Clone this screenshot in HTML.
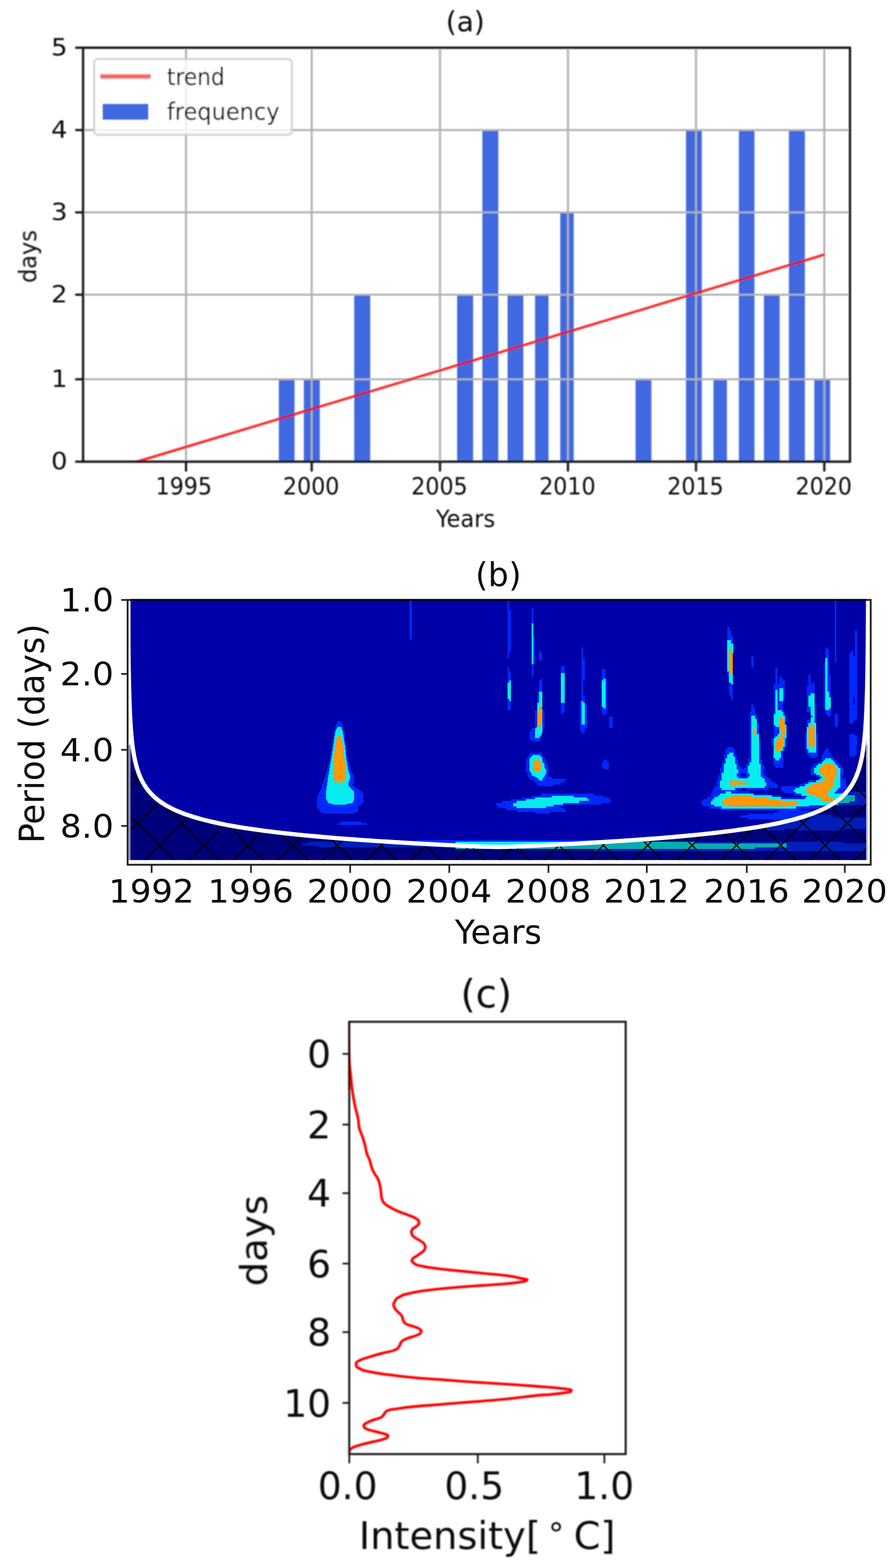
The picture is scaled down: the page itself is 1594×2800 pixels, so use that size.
<!DOCTYPE html>
<html lang="en"><head><meta charset="utf-8"><title>Figure</title>
<style>html,body{margin:0;padding:0;background:#fff}body{width:1594px;height:2800px;overflow:hidden}svg{display:block}text{font-family:"DejaVu Sans","Liberation Sans",sans-serif;fill:#0c0c0c}</style></head><body>
<svg width="1594" height="2800" viewBox="0 0 1594 2800">
<rect width="1594" height="2800" fill="#fff"/>
<defs><filter id="ba" x="-5%" y="-5%" width="110%" height="110%"><feGaussianBlur stdDeviation="0.8"/></filter><filter id="bb" x="-5%" y="-5%" width="110%" height="110%"><feGaussianBlur stdDeviation="0.4"/></filter><filter id="bc" x="-5%" y="-5%" width="110%" height="110%"><feGaussianBlur stdDeviation="0.8"/></filter></defs>
<g id="panel-a" filter="url(#ba)">
<rect x="497.7" y="677.3" width="28.1" height="147.1" fill="#4169e1"/>
<rect x="542.3" y="677.3" width="28.5" height="147.1" fill="#4169e1"/>
<rect x="632.3" y="526.2" width="28.5" height="298.2" fill="#4169e1"/>
<rect x="816.0" y="526.2" width="28.5" height="298.2" fill="#4169e1"/>
<rect x="861.0" y="232.3" width="28.5" height="592.1" fill="#4169e1"/>
<rect x="906.0" y="526.2" width="28.1" height="298.2" fill="#4169e1"/>
<rect x="955.1" y="526.2" width="24.0" height="298.2" fill="#4169e1"/>
<rect x="1000.1" y="379.3" width="24.0" height="445.1" fill="#4169e1"/>
<rect x="1134.5" y="677.3" width="28.2" height="147.1" fill="#4169e1"/>
<rect x="1224.5" y="232.3" width="28.2" height="592.1" fill="#4169e1"/>
<rect x="1273.6" y="677.3" width="24.0" height="147.1" fill="#4169e1"/>
<rect x="1318.9" y="232.3" width="27.8" height="592.1" fill="#4169e1"/>
<rect x="1363.6" y="526.2" width="28.1" height="298.2" fill="#4169e1"/>
<rect x="1408.2" y="232.3" width="28.5" height="592.1" fill="#4169e1"/>
<rect x="1453.5" y="677.3" width="28.2" height="147.1" fill="#4169e1"/>
<line x1="332.1" y1="85.2" x2="332.1" y2="824.4" stroke="#b0b0b0" stroke-width="3.6"/>
<line x1="556.4" y1="85.2" x2="556.4" y2="824.4" stroke="#b0b0b0" stroke-width="3.6"/>
<line x1="785.4" y1="85.2" x2="785.4" y2="824.4" stroke="#b0b0b0" stroke-width="3.6"/>
<line x1="1013.8" y1="85.2" x2="1013.8" y2="824.4" stroke="#b0b0b0" stroke-width="3.6"/>
<line x1="1242.4" y1="85.2" x2="1242.4" y2="824.4" stroke="#b0b0b0" stroke-width="3.6"/>
<line x1="1471.4" y1="85.2" x2="1471.4" y2="824.4" stroke="#b0b0b0" stroke-width="3.6"/>
<line x1="148.3" y1="677.3" x2="1517.2" y2="677.3" stroke="#b0b0b0" stroke-width="3.6"/>
<line x1="148.3" y1="526.2" x2="1517.2" y2="526.2" stroke="#b0b0b0" stroke-width="3.6"/>
<line x1="148.3" y1="379.3" x2="1517.2" y2="379.3" stroke="#b0b0b0" stroke-width="3.6"/>
<line x1="148.3" y1="232.3" x2="1517.2" y2="232.3" stroke="#b0b0b0" stroke-width="3.6"/>
<line x1="243.5" y1="824.8" x2="1471.8" y2="454.5" stroke="#ff0000" stroke-width="4.6" stroke-opacity="0.82"/>
<rect x="148.3" y="85.2" width="1368.9" height="739.2" fill="none" stroke="#141414" stroke-width="4.1"/>
<line x1="332.1" y1="824.4" x2="332.1" y2="841.9" stroke="#141414" stroke-width="4.0"/>
<text transform="translate(328.1,882.8) scale(0.93,1)" font-size="42.6" text-anchor="middle">1995</text>
<line x1="556.4" y1="824.4" x2="556.4" y2="841.9" stroke="#141414" stroke-width="4.0"/>
<text transform="translate(555.4,882.8) scale(0.93,1)" font-size="42.6" text-anchor="middle">2000</text>
<line x1="785.4" y1="824.4" x2="785.4" y2="841.9" stroke="#141414" stroke-width="4.0"/>
<text transform="translate(784.4,882.8) scale(0.93,1)" font-size="42.6" text-anchor="middle">2005</text>
<line x1="1013.8" y1="824.4" x2="1013.8" y2="841.9" stroke="#141414" stroke-width="4.0"/>
<text transform="translate(1012.8,882.8) scale(0.93,1)" font-size="42.6" text-anchor="middle">2010</text>
<line x1="1242.4" y1="824.4" x2="1242.4" y2="841.9" stroke="#141414" stroke-width="4.0"/>
<text transform="translate(1241.4,882.8) scale(0.93,1)" font-size="42.6" text-anchor="middle">2015</text>
<line x1="1471.4" y1="824.4" x2="1471.4" y2="841.9" stroke="#141414" stroke-width="4.0"/>
<text transform="translate(1470.4,882.8) scale(0.93,1)" font-size="42.6" text-anchor="middle">2020</text>
<line x1="134.3" y1="85.2" x2="148.3" y2="85.2" stroke="#141414" stroke-width="4.0"/>
<text transform="translate(120.5,99.2) scale(1.07,1)" font-size="42.8" text-anchor="end">5</text>
<line x1="134.3" y1="232.3" x2="148.3" y2="232.3" stroke="#141414" stroke-width="4.0"/>
<text transform="translate(120.5,246.3) scale(1.07,1)" font-size="42.8" text-anchor="end">4</text>
<line x1="134.3" y1="379.3" x2="148.3" y2="379.3" stroke="#141414" stroke-width="4.0"/>
<text transform="translate(120.5,393.3) scale(1.07,1)" font-size="42.8" text-anchor="end">3</text>
<line x1="134.3" y1="526.2" x2="148.3" y2="526.2" stroke="#141414" stroke-width="4.0"/>
<text transform="translate(120.5,540.2) scale(1.07,1)" font-size="42.8" text-anchor="end">2</text>
<line x1="134.3" y1="677.3" x2="148.3" y2="677.3" stroke="#141414" stroke-width="4.0"/>
<text transform="translate(120.5,691.3) scale(1.07,1)" font-size="42.8" text-anchor="end">1</text>
<line x1="134.3" y1="824.4" x2="148.3" y2="824.4" stroke="#141414" stroke-width="4.0"/>
<text transform="translate(120.5,838.4) scale(1.07,1)" font-size="42.8" text-anchor="end">0</text>
<text transform="translate(830.5,55.8)" font-size="50" text-anchor="middle">(a)</text>
<text transform="translate(831.0,940.5) scale(0.93,1)" font-size="43" text-anchor="middle">Years</text>
<text transform="translate(64.5,458.0) rotate(-90) scale(0.93,1)" font-size="43" text-anchor="middle">days</text>
<rect x="168" y="105.3" width="353" height="135.4" rx="7" fill="#fff" fill-opacity="0.8" stroke="#cccccc" stroke-opacity="0.85" stroke-width="3.8"/>
<line x1="178.8" y1="136.4" x2="268.8" y2="136.4" stroke="#ff0000" stroke-width="8" stroke-opacity="0.6"/>
<rect x="183" y="185.4" width="81.8" height="28.4" fill="#4169e1"/>
<text transform="translate(298.0,152.0) scale(0.9,1)" font-size="43" text-anchor="start">trend</text>
<text transform="translate(298.0,213.5) scale(0.932,1)" font-size="43" text-anchor="start">frequency</text>
</g>
<g id="panel-b">
<clipPath id="clipb"><rect x="232.8" y="1071.3" width="1313.6" height="464.5"/></clipPath>
<rect x="232.8" y="1071.3" width="1313.6" height="464.5" fill="#0000a8"/>
<g clip-path="url(#clipb)" shape-rendering="crispEdges">
<rect x="1298.1" y="1118.9" width="3.8" height="7.1" fill="#0028fc"/>
<rect x="1298.1" y="1125.7" width="7.1" height="10.5" fill="#0028fc"/>
<rect x="1298.1" y="1135.8" width="10.4" height="7.1" fill="#0028fc"/>
<rect x="1304.8" y="1142.5" width="3.7" height="6.7" fill="#0028fc"/>
<rect x="1298.1" y="1198.7" width="3.8" height="3.8" fill="#0028fc"/>
<rect x="1298.1" y="1202.1" width="3.8" height="6.7" fill="#0028fc"/>
<rect x="1301.4" y="1218.5" width="3.8" height="3.8" fill="#0028fc"/>
<rect x="1301.4" y="1221.8" width="7.0" height="20.1" fill="#0028fc"/>
<rect x="1304.8" y="1241.5" width="3.7" height="7.1" fill="#0028fc"/>
<rect x="1340.9" y="1171.8" width="4.0" height="20.3" fill="#0028fc"/>
<rect x="1340.9" y="1257.9" width="4.0" height="7.1" fill="#0028fc"/>
<rect x="1340.9" y="1264.6" width="7.2" height="7.1" fill="#0028fc"/>
<rect x="1337.8" y="1271.3" width="10.3" height="3.8" fill="#0028fc"/>
<rect x="1337.8" y="1274.7" width="13.6" height="3.8" fill="#0028fc"/>
<rect x="1337.8" y="1278.1" width="3.5" height="6.7" fill="#0028fc"/>
<rect x="1347.7" y="1278.1" width="3.7" height="6.7" fill="#0028fc"/>
<rect x="1337.8" y="1284.3" width="3.5" height="7.1" fill="#0028fc"/>
<rect x="1337.8" y="1291.0" width="3.5" height="10.5" fill="#0028fc"/>
<rect x="1351.0" y="1291.0" width="3.8" height="10.5" fill="#0028fc"/>
<rect x="1337.8" y="1301.1" width="3.5" height="10.5" fill="#0028fc"/>
<rect x="1351.0" y="1301.1" width="3.8" height="10.5" fill="#0028fc"/>
<rect x="1337.8" y="1311.2" width="3.5" height="13.4" fill="#0028fc"/>
<rect x="1337.8" y="1324.2" width="3.5" height="6.0" fill="#0028fc"/>
<rect x="1354.3" y="1324.2" width="3.8" height="6.0" fill="#0028fc"/>
<rect x="1383.9" y="1191.7" width="4.0" height="30.5" fill="#0028fc"/>
<rect x="1390.9" y="1208.4" width="3.8" height="3.8" fill="#0028fc"/>
<rect x="1390.9" y="1211.7" width="6.8" height="3.8" fill="#0028fc"/>
<rect x="1390.9" y="1215.1" width="10.1" height="7.1" fill="#0028fc"/>
<rect x="1380.8" y="1221.8" width="20.2" height="7.1" fill="#0028fc"/>
<rect x="1380.8" y="1228.5" width="10.5" height="3.8" fill="#0028fc"/>
<rect x="1397.3" y="1228.5" width="3.7" height="3.8" fill="#0028fc"/>
<rect x="1380.8" y="1231.9" width="3.6" height="16.7" fill="#0028fc"/>
<rect x="1387.5" y="1231.9" width="3.8" height="16.7" fill="#0028fc"/>
<rect x="1397.3" y="1231.9" width="3.7" height="16.7" fill="#0028fc"/>
<rect x="1380.8" y="1248.3" width="3.6" height="3.8" fill="#0028fc"/>
<rect x="1387.5" y="1248.3" width="3.8" height="3.8" fill="#0028fc"/>
<rect x="1380.8" y="1251.6" width="3.6" height="16.7" fill="#0028fc"/>
<rect x="1387.5" y="1251.6" width="10.2" height="16.7" fill="#0028fc"/>
<rect x="1380.8" y="1268.0" width="3.6" height="3.8" fill="#0028fc"/>
<rect x="1394.2" y="1268.0" width="3.5" height="3.8" fill="#0028fc"/>
<rect x="1380.8" y="1271.3" width="3.6" height="3.8" fill="#0028fc"/>
<rect x="1397.3" y="1271.3" width="3.7" height="3.8" fill="#0028fc"/>
<rect x="1397.3" y="1274.7" width="3.7" height="3.8" fill="#0028fc"/>
<rect x="1400.6" y="1278.1" width="3.7" height="3.8" fill="#0028fc"/>
<rect x="1400.6" y="1281.4" width="3.7" height="6.7" fill="#0028fc"/>
<rect x="1400.6" y="1287.7" width="3.7" height="7.1" fill="#0028fc"/>
<rect x="1380.8" y="1294.4" width="3.6" height="3.8" fill="#0028fc"/>
<rect x="1380.8" y="1297.8" width="10.5" height="3.8" fill="#0028fc"/>
<rect x="1380.8" y="1301.1" width="10.5" height="3.8" fill="#0028fc"/>
<rect x="1380.8" y="1304.5" width="7.1" height="3.8" fill="#0028fc"/>
<rect x="1380.8" y="1307.9" width="10.5" height="3.8" fill="#0028fc"/>
<rect x="1380.8" y="1311.2" width="7.1" height="3.8" fill="#0028fc"/>
<rect x="1380.8" y="1314.6" width="3.6" height="3.8" fill="#0028fc"/>
<rect x="1377.4" y="1318.0" width="3.8" height="6.7" fill="#0028fc"/>
<rect x="1400.6" y="1318.0" width="3.7" height="6.7" fill="#0028fc"/>
<rect x="1377.4" y="1324.2" width="3.8" height="6.0" fill="#0028fc"/>
<rect x="1400.6" y="1324.2" width="3.7" height="6.0" fill="#0028fc"/>
<rect x="1443.3" y="1205.0" width="4.0" height="17.2" fill="#0028fc"/>
<rect x="1450.0" y="1218.5" width="3.7" height="3.8" fill="#0028fc"/>
<rect x="1443.3" y="1221.8" width="10.4" height="3.8" fill="#0028fc"/>
<rect x="1439.9" y="1225.2" width="13.8" height="13.4" fill="#0028fc"/>
<rect x="1439.9" y="1238.2" width="7.3" height="3.8" fill="#0028fc"/>
<rect x="1439.9" y="1241.5" width="3.8" height="13.9" fill="#0028fc"/>
<rect x="1439.9" y="1255.0" width="3.8" height="6.7" fill="#0028fc"/>
<rect x="1453.3" y="1255.0" width="3.8" height="6.7" fill="#0028fc"/>
<rect x="1439.9" y="1261.2" width="7.3" height="10.5" fill="#0028fc"/>
<rect x="1453.3" y="1261.2" width="3.8" height="10.5" fill="#0028fc"/>
<rect x="1453.3" y="1271.3" width="3.8" height="7.1" fill="#0028fc"/>
<rect x="1446.8" y="1278.1" width="3.6" height="3.8" fill="#0028fc"/>
<rect x="1453.3" y="1278.1" width="3.8" height="3.8" fill="#0028fc"/>
<rect x="1453.3" y="1281.4" width="3.8" height="3.8" fill="#0028fc"/>
<rect x="1439.9" y="1284.8" width="7.3" height="6.7" fill="#0028fc"/>
<rect x="1453.3" y="1284.8" width="3.8" height="6.7" fill="#0028fc"/>
<rect x="1439.9" y="1291.0" width="3.8" height="3.8" fill="#0028fc"/>
<rect x="1439.9" y="1294.4" width="3.8" height="3.8" fill="#0028fc"/>
<rect x="1436.7" y="1307.9" width="3.6" height="3.8" fill="#0028fc"/>
<rect x="1436.7" y="1311.2" width="3.6" height="19.0" fill="#0028fc"/>
<rect x="1456.6" y="1311.2" width="3.6" height="19.0" fill="#0028fc"/>
<rect x="1473.0" y="1155.8" width="3.8" height="3.5" fill="#0028fc"/>
<rect x="1473.0" y="1158.8" width="7.1" height="16.7" fill="#0028fc"/>
<rect x="1476.3" y="1175.2" width="3.8" height="7.1" fill="#0028fc"/>
<rect x="1469.9" y="1181.9" width="3.5" height="23.5" fill="#0028fc"/>
<rect x="1476.3" y="1181.9" width="3.8" height="23.5" fill="#0028fc"/>
<rect x="1469.9" y="1205.0" width="3.5" height="30.2" fill="#0028fc"/>
<rect x="1476.3" y="1205.0" width="6.9" height="30.2" fill="#0028fc"/>
<rect x="1469.9" y="1234.8" width="3.5" height="10.5" fill="#0028fc"/>
<rect x="1479.7" y="1234.8" width="3.6" height="10.5" fill="#0028fc"/>
<rect x="1469.9" y="1244.9" width="3.5" height="20.1" fill="#0028fc"/>
<rect x="1479.7" y="1264.6" width="3.6" height="3.8" fill="#0028fc"/>
<rect x="1473.0" y="1268.0" width="10.3" height="7.1" fill="#0028fc"/>
<rect x="1476.3" y="1274.7" width="6.9" height="3.8" fill="#0028fc"/>
<rect x="1489.6" y="1070.4" width="3.6" height="111.7" fill="#0028fc"/>
<rect x="1489.6" y="1274.7" width="6.8" height="23.5" fill="#0028fc"/>
<rect x="1525.9" y="1125.7" width="3.6" height="46.6" fill="#0028fc"/>
<rect x="1519.2" y="1162.2" width="3.7" height="3.8" fill="#0028fc"/>
<rect x="1515.9" y="1165.6" width="7.0" height="6.7" fill="#0028fc"/>
<rect x="1515.9" y="1171.8" width="13.6" height="73.5" fill="#0028fc"/>
<rect x="1515.9" y="1244.9" width="7.0" height="13.4" fill="#0028fc"/>
<rect x="1525.9" y="1244.9" width="3.6" height="13.4" fill="#0028fc"/>
<rect x="1515.9" y="1257.9" width="13.6" height="27.3" fill="#0028fc"/>
<rect x="1515.9" y="1284.8" width="10.4" height="3.3" fill="#0028fc"/>
<rect x="1515.9" y="1287.7" width="7.0" height="3.8" fill="#0028fc"/>
<rect x="1515.9" y="1310.8" width="10.4" height="3.8" fill="#0028fc"/>
<rect x="1515.9" y="1314.1" width="13.6" height="16.1" fill="#0028fc"/>
<rect x="1298.2" y="1334.2" width="10.3" height="3.7" fill="#0028fc"/>
<rect x="1294.9" y="1337.5" width="16.9" height="7.0" fill="#0028fc"/>
<rect x="1294.9" y="1344.1" width="7.0" height="3.7" fill="#0028fc"/>
<rect x="1308.1" y="1344.1" width="3.7" height="3.7" fill="#0028fc"/>
<rect x="1291.6" y="1347.4" width="7.0" height="3.7" fill="#0028fc"/>
<rect x="1308.1" y="1347.4" width="7.0" height="3.7" fill="#0028fc"/>
<rect x="1291.6" y="1350.7" width="7.0" height="3.7" fill="#0028fc"/>
<rect x="1311.4" y="1350.7" width="3.7" height="3.7" fill="#0028fc"/>
<rect x="1291.6" y="1354.0" width="3.7" height="3.7" fill="#0028fc"/>
<rect x="1311.4" y="1354.0" width="3.7" height="3.7" fill="#0028fc"/>
<rect x="1291.6" y="1357.3" width="3.7" height="3.7" fill="#0028fc"/>
<rect x="1311.4" y="1357.3" width="7.0" height="3.7" fill="#0028fc"/>
<rect x="1288.3" y="1360.6" width="7.0" height="3.7" fill="#0028fc"/>
<rect x="1311.4" y="1360.6" width="7.0" height="3.7" fill="#0028fc"/>
<rect x="1288.3" y="1363.9" width="3.7" height="3.7" fill="#0028fc"/>
<rect x="1314.7" y="1363.9" width="3.7" height="3.7" fill="#0028fc"/>
<rect x="1288.3" y="1367.2" width="3.7" height="3.7" fill="#0028fc"/>
<rect x="1314.7" y="1367.2" width="7.0" height="3.7" fill="#0028fc"/>
<rect x="1285.0" y="1370.5" width="7.0" height="3.7" fill="#0028fc"/>
<rect x="1314.7" y="1370.5" width="10.3" height="3.7" fill="#0028fc"/>
<rect x="1285.0" y="1373.8" width="7.0" height="7.0" fill="#0028fc"/>
<rect x="1318.0" y="1373.8" width="16.9" height="7.0" fill="#0028fc"/>
<rect x="1285.0" y="1380.4" width="3.7" height="3.7" fill="#0028fc"/>
<rect x="1314.7" y="1380.4" width="7.0" height="3.7" fill="#0028fc"/>
<rect x="1331.2" y="1380.4" width="7.0" height="3.7" fill="#0028fc"/>
<rect x="1281.8" y="1383.7" width="7.0" height="3.7" fill="#0028fc"/>
<rect x="1314.7" y="1383.7" width="7.0" height="3.7" fill="#0028fc"/>
<rect x="1331.2" y="1383.7" width="7.0" height="3.7" fill="#0028fc"/>
<rect x="1281.8" y="1387.0" width="7.0" height="3.7" fill="#0028fc"/>
<rect x="1318.0" y="1387.0" width="16.9" height="3.7" fill="#0028fc"/>
<rect x="1281.8" y="1390.3" width="7.0" height="3.7" fill="#0028fc"/>
<rect x="1278.5" y="1393.6" width="7.0" height="3.7" fill="#0028fc"/>
<rect x="1278.5" y="1396.9" width="7.0" height="3.7" fill="#0028fc"/>
<rect x="1278.5" y="1400.2" width="7.0" height="3.7" fill="#0028fc"/>
<rect x="1275.2" y="1403.5" width="10.3" height="3.7" fill="#0028fc"/>
<rect x="1364.2" y="1403.5" width="23.5" height="3.7" fill="#0028fc"/>
<rect x="1275.2" y="1406.8" width="13.6" height="3.7" fill="#0028fc"/>
<rect x="1311.4" y="1406.8" width="13.6" height="3.7" fill="#0028fc"/>
<rect x="1331.2" y="1406.8" width="40.0" height="3.7" fill="#0028fc"/>
<rect x="1271.9" y="1410.0" width="43.3" height="3.7" fill="#0028fc"/>
<rect x="1271.9" y="1413.3" width="23.5" height="3.7" fill="#0028fc"/>
<rect x="1304.8" y="1413.3" width="33.4" height="3.7" fill="#0028fc"/>
<rect x="1271.9" y="1416.6" width="13.6" height="3.5" fill="#0028fc"/>
<rect x="1344.4" y="1416.6" width="26.8" height="3.5" fill="#0028fc"/>
<rect x="1337.8" y="1319.8" width="3.7" height="4.9" fill="#0028fc"/>
<rect x="1337.8" y="1324.3" width="3.7" height="30.1" fill="#0028fc"/>
<rect x="1354.3" y="1324.3" width="3.7" height="30.1" fill="#0028fc"/>
<rect x="1334.5" y="1354.0" width="7.0" height="3.7" fill="#0028fc"/>
<rect x="1354.3" y="1354.0" width="3.7" height="3.7" fill="#0028fc"/>
<rect x="1334.5" y="1357.3" width="7.0" height="3.7" fill="#0028fc"/>
<rect x="1354.3" y="1357.3" width="7.0" height="3.7" fill="#0028fc"/>
<rect x="1334.5" y="1360.6" width="3.7" height="3.7" fill="#0028fc"/>
<rect x="1354.3" y="1360.6" width="7.0" height="3.7" fill="#0028fc"/>
<rect x="1331.2" y="1363.9" width="7.0" height="3.7" fill="#0028fc"/>
<rect x="1357.6" y="1363.9" width="3.7" height="3.7" fill="#0028fc"/>
<rect x="1331.2" y="1367.2" width="3.7" height="3.7" fill="#0028fc"/>
<rect x="1357.6" y="1367.2" width="7.0" height="3.7" fill="#0028fc"/>
<rect x="1327.9" y="1370.5" width="7.0" height="7.0" fill="#0028fc"/>
<rect x="1357.6" y="1370.5" width="7.0" height="7.0" fill="#0028fc"/>
<rect x="1357.6" y="1377.1" width="3.7" height="3.7" fill="#0028fc"/>
<rect x="1357.6" y="1380.4" width="7.0" height="7.0" fill="#0028fc"/>
<rect x="1364.2" y="1383.7" width="3.7" height="3.7" fill="#0028fc"/>
<rect x="1360.9" y="1387.0" width="10.3" height="3.7" fill="#0028fc"/>
<rect x="1364.2" y="1390.3" width="10.3" height="3.7" fill="#0028fc"/>
<rect x="1364.2" y="1393.6" width="13.6" height="3.7" fill="#0028fc"/>
<rect x="1367.5" y="1396.9" width="16.9" height="3.7" fill="#0028fc"/>
<rect x="1367.5" y="1400.2" width="20.2" height="3.7" fill="#0028fc"/>
<rect x="1275.0" y="1403.6" width="10.3" height="3.7" fill="#0028fc"/>
<rect x="1364.0" y="1403.6" width="23.5" height="3.7" fill="#0028fc"/>
<rect x="1275.0" y="1406.9" width="13.6" height="3.7" fill="#0028fc"/>
<rect x="1311.8" y="1406.9" width="13.0" height="3.7" fill="#0028fc"/>
<rect x="1331.0" y="1406.9" width="40.5" height="3.7" fill="#0028fc"/>
<rect x="1393.6" y="1406.9" width="6.6" height="3.7" fill="#0028fc"/>
<rect x="1271.9" y="1410.2" width="43.6" height="3.7" fill="#0028fc"/>
<rect x="1396.9" y="1410.2" width="3.3" height="3.7" fill="#0028fc"/>
<rect x="1271.9" y="1413.5" width="23.3" height="3.7" fill="#0028fc"/>
<rect x="1304.6" y="1413.5" width="33.4" height="3.7" fill="#0028fc"/>
<rect x="1268.6" y="1416.8" width="16.7" height="3.7" fill="#0028fc"/>
<rect x="1344.7" y="1416.8" width="26.8" height="3.7" fill="#0028fc"/>
<rect x="1268.6" y="1420.1" width="13.4" height="3.7" fill="#0028fc"/>
<rect x="1377.7" y="1420.1" width="16.3" height="3.7" fill="#0028fc"/>
<rect x="1261.8" y="1423.4" width="13.6" height="3.7" fill="#0028fc"/>
<rect x="1393.6" y="1423.4" width="6.6" height="3.7" fill="#0028fc"/>
<rect x="1255.2" y="1426.7" width="16.9" height="3.7" fill="#0028fc"/>
<rect x="1251.9" y="1430.0" width="17.1" height="3.7" fill="#0028fc"/>
<rect x="1251.9" y="1433.3" width="17.1" height="3.7" fill="#0028fc"/>
<rect x="1255.2" y="1436.6" width="20.2" height="3.7" fill="#0028fc"/>
<rect x="1265.3" y="1439.9" width="23.3" height="3.7" fill="#0028fc"/>
<rect x="1284.9" y="1443.2" width="115.3" height="3.7" fill="#0028fc"/>
<rect x="1390.3" y="1446.5" width="9.9" height="3.7" fill="#0028fc"/>
<rect x="1383.8" y="1449.8" width="16.4" height="3.7" fill="#0028fc"/>
<rect x="1334.9" y="1453.1" width="65.3" height="3.7" fill="#0028fc"/>
<rect x="1321.1" y="1456.4" width="79.1" height="3.7" fill="#0028fc"/>
<rect x="1334.9" y="1459.7" width="65.3" height="3.7" fill="#0028fc"/>
<rect x="1400.8" y="1319.8" width="3.3" height="4.5" fill="#0028fc"/>
<rect x="1400.8" y="1323.9" width="3.3" height="10.3" fill="#0028fc"/>
<rect x="1397.3" y="1333.8" width="3.9" height="7.4" fill="#0028fc"/>
<rect x="1379.8" y="1340.8" width="1.3" height="13.2" fill="#0028fc"/>
<rect x="1393.8" y="1340.8" width="3.9" height="13.2" fill="#0028fc"/>
<rect x="1379.8" y="1353.7" width="4.6" height="3.9" fill="#0028fc"/>
<rect x="1390.5" y="1353.7" width="7.2" height="3.9" fill="#0028fc"/>
<rect x="1379.8" y="1357.2" width="17.9" height="6.8" fill="#0028fc"/>
<rect x="1380.7" y="1363.6" width="17.0" height="3.9" fill="#0028fc"/>
<rect x="1384.0" y="1367.1" width="13.7" height="3.9" fill="#0028fc"/>
<rect x="1437.0" y="1319.8" width="3.7" height="11.5" fill="#0028fc"/>
<rect x="1456.6" y="1319.8" width="3.6" height="11.5" fill="#0028fc"/>
<rect x="1437.0" y="1330.9" width="3.7" height="3.3" fill="#0028fc"/>
<rect x="1456.6" y="1330.9" width="3.6" height="3.3" fill="#0028fc"/>
<rect x="1437.0" y="1333.8" width="3.7" height="3.9" fill="#0028fc"/>
<rect x="1456.6" y="1333.8" width="3.6" height="3.9" fill="#0028fc"/>
<rect x="1440.3" y="1337.3" width="3.6" height="6.8" fill="#0028fc"/>
<rect x="1456.6" y="1337.3" width="3.6" height="6.8" fill="#0028fc"/>
<rect x="1440.3" y="1343.7" width="19.9" height="3.9" fill="#0028fc"/>
<rect x="1443.4" y="1347.2" width="16.7" height="3.6" fill="#0028fc"/>
<rect x="1446.9" y="1350.4" width="10.1" height="3.7" fill="#0028fc"/>
<rect x="1515.8" y="1319.8" width="13.6" height="27.8" fill="#0028fc"/>
<rect x="1515.8" y="1347.2" width="10.3" height="3.6" fill="#0028fc"/>
<rect x="1473.2" y="1337.3" width="6.8" height="3.9" fill="#0028fc"/>
<rect x="1469.9" y="1340.8" width="10.1" height="3.3" fill="#0028fc"/>
<rect x="1469.9" y="1343.7" width="13.6" height="3.9" fill="#0028fc"/>
<rect x="1466.8" y="1347.2" width="16.7" height="3.6" fill="#0028fc"/>
<rect x="1466.8" y="1350.4" width="19.9" height="3.7" fill="#0028fc"/>
<rect x="1466.8" y="1353.7" width="6.8" height="3.9" fill="#0028fc"/>
<rect x="1483.1" y="1353.7" width="6.8" height="3.9" fill="#0028fc"/>
<rect x="1466.8" y="1357.2" width="3.6" height="3.7" fill="#0028fc"/>
<rect x="1486.3" y="1357.2" width="6.9" height="3.7" fill="#0028fc"/>
<rect x="1460.1" y="1360.4" width="7.1" height="3.6" fill="#0028fc"/>
<rect x="1489.5" y="1360.4" width="6.8" height="3.6" fill="#0028fc"/>
<rect x="1453.4" y="1363.6" width="7.2" height="3.9" fill="#0028fc"/>
<rect x="1492.8" y="1363.6" width="7.1" height="3.9" fill="#0028fc"/>
<rect x="1450.2" y="1367.1" width="6.8" height="3.9" fill="#0028fc"/>
<rect x="1496.0" y="1367.1" width="7.1" height="3.9" fill="#0028fc"/>
<rect x="1446.9" y="1370.6" width="6.8" height="10.3" fill="#0028fc"/>
<rect x="1499.5" y="1370.6" width="6.8" height="10.3" fill="#0028fc"/>
<rect x="1446.9" y="1380.5" width="10.1" height="3.7" fill="#0028fc"/>
<rect x="1499.5" y="1380.5" width="6.8" height="3.7" fill="#0028fc"/>
<rect x="1456.6" y="1383.8" width="7.1" height="3.6" fill="#0028fc"/>
<rect x="1499.5" y="1383.8" width="3.6" height="3.6" fill="#0028fc"/>
<rect x="1463.3" y="1386.9" width="3.9" height="3.7" fill="#0028fc"/>
<rect x="1499.5" y="1386.9" width="3.6" height="3.7" fill="#0028fc"/>
<rect x="1460.1" y="1389.8" width="3.6" height="3.9" fill="#0028fc"/>
<rect x="1499.5" y="1389.8" width="10.3" height="3.9" fill="#0028fc"/>
<rect x="1443.4" y="1393.3" width="13.8" height="3.9" fill="#0028fc"/>
<rect x="1499.5" y="1393.3" width="10.3" height="3.9" fill="#0028fc"/>
<rect x="1379.8" y="1396.8" width="4.6" height="3.7" fill="#0028fc"/>
<rect x="1433.7" y="1396.8" width="10.1" height="3.7" fill="#0028fc"/>
<rect x="1499.5" y="1396.8" width="10.3" height="3.7" fill="#0028fc"/>
<rect x="1379.8" y="1400.1" width="7.9" height="3.9" fill="#0028fc"/>
<rect x="1427.1" y="1400.1" width="10.3" height="3.9" fill="#0028fc"/>
<rect x="1499.5" y="1400.1" width="10.3" height="3.9" fill="#0028fc"/>
<rect x="1393.8" y="1403.6" width="33.7" height="3.6" fill="#0028fc"/>
<rect x="1499.5" y="1403.6" width="13.6" height="3.6" fill="#0028fc"/>
<rect x="1393.8" y="1406.7" width="27.0" height="3.9" fill="#0028fc"/>
<rect x="1496.0" y="1406.7" width="13.8" height="3.9" fill="#0028fc"/>
<rect x="1397.1" y="1410.2" width="20.5" height="3.9" fill="#0028fc"/>
<rect x="1492.8" y="1410.2" width="13.5" height="3.9" fill="#0028fc"/>
<rect x="1400.6" y="1413.7" width="20.2" height="3.6" fill="#0028fc"/>
<rect x="1489.5" y="1413.7" width="60.6" height="3.6" fill="#0028fc"/>
<rect x="1417.2" y="1416.9" width="13.2" height="3.9" fill="#0028fc"/>
<rect x="1512.9" y="1416.9" width="37.3" height="3.9" fill="#0028fc"/>
<rect x="1379.8" y="1420.4" width="14.4" height="3.7" fill="#0028fc"/>
<rect x="1430.0" y="1420.4" width="10.7" height="3.7" fill="#0028fc"/>
<rect x="1525.7" y="1420.4" width="24.5" height="3.7" fill="#0028fc"/>
<rect x="1393.8" y="1423.7" width="43.6" height="3.9" fill="#0028fc"/>
<rect x="1525.7" y="1423.7" width="24.5" height="3.9" fill="#0028fc"/>
<rect x="1525.7" y="1427.2" width="24.5" height="3.7" fill="#0028fc"/>
<rect x="1515.8" y="1430.4" width="34.4" height="3.6" fill="#0028fc"/>
<rect x="1496.6" y="1433.6" width="53.6" height="3.9" fill="#0028fc"/>
<rect x="1443.4" y="1437.1" width="26.9" height="3.3" fill="#0028fc"/>
<rect x="1420.4" y="1440.0" width="43.2" height="3.9" fill="#0028fc"/>
<rect x="1379.8" y="1443.5" width="50.6" height="3.9" fill="#0028fc"/>
<rect x="1390.5" y="1447.0" width="56.8" height="3.9" fill="#0028fc"/>
<rect x="1379.8" y="1450.5" width="70.5" height="5.1" fill="#0028fc"/>
<rect x="1379.8" y="1455.2" width="107.2" height="5.1" fill="#0028fc"/>
<rect x="1379.8" y="1459.9" width="170.4" height="3.6" fill="#0028fc"/>
<rect x="1399.6" y="1463.0" width="150.5" height="7.2" fill="#0028fc"/>
<polygon points="602.4,1288.0 609.1,1288.0 612.1,1294.8 615.6,1314.4 618.6,1337.8 622.1,1357.5 625.4,1374.1 628.4,1380.9 632.2,1383.9 632.2,1396.7 629.2,1400.5 632.2,1403.5 635.2,1407.3 642.0,1410.3 648.8,1417.1 648.8,1433.0 645.1,1436.8 639.0,1439.8 639.0,1449.6 629.2,1453.1 579.0,1453.1 572.5,1449.6 566.0,1442.8 566.0,1423.9 569.2,1417.1 572.5,1410.3 575.6,1400.5 578.9,1390.7 582.4,1380.9 585.8,1367.3 589.2,1350.7 592.5,1331.0 596.0,1311.4 599.0,1294.8" fill="#0028fc"/>
<rect x="602.4" y="1469.7" width="52.4" height="3.3" fill="#0028fc"/>
<rect x="609.1" y="1466.7" width="36.0" height="3.0" fill="#0028fc"/>
<rect x="906.1" y="1070.7" width="3.0" height="105.4" fill="#0028fc"/>
<rect x="909.1" y="1089.5" width="3.2" height="73.2" fill="#0028fc"/>
<rect x="906.1" y="1192.1" width="3.0" height="75.9" fill="#0028fc"/>
<rect x="909.1" y="1198.9" width="3.2" height="69.1" fill="#0028fc"/>
<rect x="948.8" y="1085.9" width="3.2" height="122.7" fill="#0028fc"/>
<rect x="952.0" y="1135.9" width="3.2" height="50.0" fill="#0028fc"/>
<rect x="961.8" y="1162.1" width="3.2" height="16.6" fill="#0028fc"/>
<rect x="965.0" y="1165.7" width="3.4" height="13.0" fill="#0028fc"/>
<rect x="965.0" y="1211.8" width="3.4" height="3.6" fill="#0028fc"/>
<rect x="961.8" y="1215.4" width="6.6" height="19.6" fill="#0028fc"/>
<rect x="958.6" y="1244.8" width="3.2" height="9.8" fill="#0028fc"/>
<rect x="955.2" y="1268.0" width="3.4" height="32.0" fill="#0028fc"/>
<rect x="968.4" y="1268.0" width="3.2" height="32.0" fill="#0028fc"/>
<rect x="958.6" y="1235.0" width="9.8" height="65.0" fill="#0028fc"/>
<rect x="1001.4" y="1188.9" width="6.4" height="82.7" fill="#0028fc"/>
<rect x="1001.4" y="1271.6" width="3.2" height="3.2" fill="#0028fc"/>
<rect x="1037.7" y="1155.9" width="3.2" height="96.1" fill="#0028fc"/>
<rect x="1040.9" y="1175.7" width="3.4" height="39.6" fill="#0028fc"/>
<rect x="1040.9" y="1242.1" width="3.4" height="12.5" fill="#0028fc"/>
<rect x="1034.5" y="1252.0" width="3.2" height="48.0" fill="#0028fc"/>
<rect x="1037.7" y="1252.0" width="9.8" height="48.0" fill="#0028fc"/>
<rect x="1073.9" y="1195.4" width="7.0" height="16.4" fill="#0028fc"/>
<rect x="1073.9" y="1211.8" width="9.8" height="62.5" fill="#0028fc"/>
<rect x="1077.0" y="1274.3" width="3.9" height="3.6" fill="#0028fc"/>
<rect x="1087.1" y="1281.4" width="6.8" height="18.6" fill="#0028fc"/>
<polygon points="955.2,1280.0 971.6,1280.0 971.6,1297.9 968.4,1307.7 968.4,1313.9 965.0,1317.5 965.0,1323.8 948.8,1323.8 945.4,1320.2 945.4,1307.7 948.8,1301.4 955.2,1297.9" fill="#0028fc"/>
<rect x="1034.5" y="1280.0" width="13.0" height="17.9" fill="#0028fc"/>
<rect x="1034.5" y="1297.9" width="9.8" height="6.2" fill="#0028fc"/>
<rect x="1037.7" y="1304.1" width="6.6" height="3.6" fill="#0028fc"/>
<rect x="1037.7" y="1307.7" width="3.2" height="3.0" fill="#0028fc"/>
<rect x="1087.1" y="1280.0" width="6.8" height="14.6" fill="#0028fc"/>
<rect x="1077.0" y="1357.3" width="6.8" height="3.4" fill="#0028fc"/>
<rect x="1073.9" y="1360.7" width="13.2" height="9.8" fill="#0028fc"/>
<rect x="1077.0" y="1370.5" width="10.2" height="3.2" fill="#0028fc"/>
<polygon points="945.4,1344.3 965.0,1344.3 968.4,1347.5 971.6,1350.9 974.8,1360.4 977.9,1367.5 977.9,1373.8 981.4,1373.8 981.4,1377.3 977.9,1377.3 977.9,1387.1 985.0,1387.1 985.0,1390.7 1011.4,1390.7 1011.4,1393.9 1008.2,1393.9 1008.2,1397.0 1001.4,1397.0 1001.4,1400.5 988.2,1400.5 988.2,1403.8 958.6,1403.8 958.6,1400.5 955.2,1397.0 952.0,1393.9 945.4,1390.7 942.1,1387.1 942.1,1380.9 938.9,1377.3 938.9,1360.4 942.1,1350.9 945.4,1347.5" fill="#0028fc"/>
<polygon points="965.0,1417.1 1060.9,1417.1 1060.9,1420.5 1077.0,1420.5 1077.0,1423.8 1087.1,1423.8 1087.1,1427.0 1090.4,1427.0 1090.4,1433.6 1073.9,1433.6 1073.9,1436.8 1004.6,1436.8 1004.6,1439.8 1001.4,1439.8 1001.4,1443.4 1008.2,1443.4 1008.2,1446.6 1011.4,1446.6 1011.4,1449.6 981.8,1449.6 981.8,1453.2 955.2,1453.2 955.2,1449.6 922.1,1449.6 922.1,1446.6 902.5,1446.6 902.5,1443.4 889.5,1443.4 889.5,1440.2 886.2,1440.2 886.2,1433.6 896.1,1433.6 896.1,1430.4 912.3,1430.4 912.3,1427.0 932.3,1427.0 932.3,1423.8 948.8,1423.8 948.8,1420.5 965.0,1420.5" fill="#0028fc"/>
<rect x="731.0" y="1069.8" width="3.5" height="72.6" fill="#0028fc"/>
<rect x="742.8" y="1499.6" width="332.4" height="3.8" fill="#0028fc"/>
<rect x="549.8" y="1503.0" width="263.4" height="3.6" fill="#0028fc"/>
<rect x="1239.8" y="1503.0" width="266.4" height="3.6" fill="#0028fc"/>
<rect x="538.8" y="1506.2" width="274.4" height="3.7" fill="#0028fc"/>
<rect x="1403.8" y="1506.2" width="142.8" height="3.7" fill="#0028fc"/>
<rect x="565.8" y="1509.5" width="247.4" height="3.7" fill="#0028fc"/>
<rect x="1403.8" y="1509.5" width="142.8" height="3.7" fill="#0028fc"/>
<rect x="1347.8" y="1512.8" width="198.8" height="3.6" fill="#0028fc"/>
<rect x="1059.8" y="1516.0" width="486.8" height="3.7" fill="#0028fc"/>
<rect x="1399.8" y="1455.2" width="87.2" height="5.1" fill="#0028fc"/>
<rect x="1399.8" y="1459.9" width="146.8" height="20.2" fill="#0028fc"/>
<rect x="1421.8" y="1479.7" width="82.8" height="3.7" fill="#0028fc"/>
<rect x="1368.8" y="1471.5" width="32.4" height="11.3" fill="#0028fc"/>
<rect x="1044.3" y="1252.0" width="3.2" height="6.2" fill="#0000a8"/>
<rect x="1298.1" y="1142.5" width="7.1" height="6.7" fill="#08ecf0"/>
<rect x="1298.1" y="1148.7" width="10.4" height="10.5" fill="#08ecf0"/>
<rect x="1298.1" y="1158.8" width="3.8" height="7.1" fill="#08ecf0"/>
<rect x="1304.8" y="1158.8" width="3.7" height="7.1" fill="#08ecf0"/>
<rect x="1298.1" y="1165.6" width="3.8" height="33.6" fill="#08ecf0"/>
<rect x="1301.4" y="1202.1" width="7.0" height="6.7" fill="#08ecf0"/>
<rect x="1301.4" y="1208.4" width="7.0" height="10.5" fill="#08ecf0"/>
<rect x="1304.8" y="1218.5" width="3.7" height="3.8" fill="#08ecf0"/>
<rect x="1340.9" y="1278.1" width="7.2" height="6.7" fill="#08ecf0"/>
<rect x="1340.9" y="1284.3" width="10.5" height="7.1" fill="#08ecf0"/>
<rect x="1340.9" y="1291.0" width="10.5" height="10.5" fill="#08ecf0"/>
<rect x="1340.9" y="1301.1" width="4.0" height="10.5" fill="#08ecf0"/>
<rect x="1347.7" y="1301.1" width="3.7" height="10.5" fill="#08ecf0"/>
<rect x="1340.9" y="1311.2" width="13.9" height="13.4" fill="#08ecf0"/>
<rect x="1340.9" y="1324.2" width="13.9" height="6.0" fill="#08ecf0"/>
<rect x="1390.9" y="1228.5" width="6.8" height="3.8" fill="#08ecf0"/>
<rect x="1383.9" y="1231.9" width="4.0" height="16.7" fill="#08ecf0"/>
<rect x="1390.9" y="1231.9" width="6.8" height="16.7" fill="#08ecf0"/>
<rect x="1383.9" y="1248.3" width="4.0" height="3.8" fill="#08ecf0"/>
<rect x="1390.9" y="1248.3" width="6.8" height="3.8" fill="#08ecf0"/>
<rect x="1383.9" y="1251.6" width="4.0" height="16.7" fill="#08ecf0"/>
<rect x="1383.9" y="1268.0" width="10.7" height="3.8" fill="#08ecf0"/>
<rect x="1383.9" y="1271.3" width="13.8" height="3.8" fill="#08ecf0"/>
<rect x="1380.8" y="1274.7" width="16.9" height="3.8" fill="#08ecf0"/>
<rect x="1380.8" y="1278.1" width="20.2" height="3.8" fill="#08ecf0"/>
<rect x="1380.8" y="1281.4" width="10.5" height="6.7" fill="#08ecf0"/>
<rect x="1397.3" y="1281.4" width="3.7" height="6.7" fill="#08ecf0"/>
<rect x="1380.8" y="1287.7" width="10.5" height="7.1" fill="#08ecf0"/>
<rect x="1383.9" y="1294.4" width="7.3" height="3.8" fill="#08ecf0"/>
<rect x="1400.6" y="1294.4" width="3.7" height="3.8" fill="#08ecf0"/>
<rect x="1400.6" y="1297.8" width="3.7" height="3.8" fill="#08ecf0"/>
<rect x="1390.9" y="1301.1" width="3.8" height="3.8" fill="#08ecf0"/>
<rect x="1400.6" y="1301.1" width="3.7" height="3.8" fill="#08ecf0"/>
<rect x="1390.9" y="1304.5" width="3.8" height="3.8" fill="#08ecf0"/>
<rect x="1400.6" y="1304.5" width="3.7" height="3.8" fill="#08ecf0"/>
<rect x="1390.9" y="1307.9" width="3.8" height="3.8" fill="#08ecf0"/>
<rect x="1400.6" y="1307.9" width="3.7" height="3.8" fill="#08ecf0"/>
<rect x="1387.5" y="1311.2" width="7.1" height="3.8" fill="#08ecf0"/>
<rect x="1397.3" y="1311.2" width="6.9" height="3.8" fill="#08ecf0"/>
<rect x="1383.9" y="1314.6" width="7.3" height="3.8" fill="#08ecf0"/>
<rect x="1397.3" y="1314.6" width="6.9" height="3.8" fill="#08ecf0"/>
<rect x="1380.8" y="1318.0" width="7.1" height="6.7" fill="#08ecf0"/>
<rect x="1397.3" y="1318.0" width="3.7" height="6.7" fill="#08ecf0"/>
<rect x="1380.8" y="1324.2" width="3.6" height="6.0" fill="#08ecf0"/>
<rect x="1397.3" y="1324.2" width="3.7" height="6.0" fill="#08ecf0"/>
<rect x="1446.8" y="1238.2" width="6.8" height="3.8" fill="#08ecf0"/>
<rect x="1443.3" y="1241.5" width="10.4" height="13.9" fill="#08ecf0"/>
<rect x="1443.3" y="1255.0" width="10.4" height="6.7" fill="#08ecf0"/>
<rect x="1446.8" y="1261.2" width="6.8" height="10.5" fill="#08ecf0"/>
<rect x="1446.8" y="1271.3" width="6.8" height="7.1" fill="#08ecf0"/>
<rect x="1450.0" y="1278.1" width="3.7" height="3.8" fill="#08ecf0"/>
<rect x="1446.8" y="1281.4" width="6.8" height="3.8" fill="#08ecf0"/>
<rect x="1446.8" y="1284.8" width="6.8" height="6.7" fill="#08ecf0"/>
<rect x="1443.3" y="1291.0" width="13.8" height="3.8" fill="#08ecf0"/>
<rect x="1443.3" y="1294.4" width="4.0" height="3.8" fill="#08ecf0"/>
<rect x="1453.3" y="1294.4" width="3.8" height="3.8" fill="#08ecf0"/>
<rect x="1439.9" y="1297.8" width="3.8" height="10.5" fill="#08ecf0"/>
<rect x="1453.3" y="1297.8" width="3.8" height="10.5" fill="#08ecf0"/>
<rect x="1439.9" y="1307.9" width="3.8" height="3.8" fill="#08ecf0"/>
<rect x="1453.3" y="1307.9" width="3.8" height="3.8" fill="#08ecf0"/>
<rect x="1439.9" y="1311.2" width="3.8" height="19.0" fill="#08ecf0"/>
<rect x="1453.3" y="1311.2" width="3.8" height="19.0" fill="#08ecf0"/>
<rect x="1473.0" y="1175.2" width="3.8" height="7.1" fill="#08ecf0"/>
<rect x="1473.0" y="1181.9" width="3.8" height="23.5" fill="#08ecf0"/>
<rect x="1473.0" y="1205.0" width="3.8" height="30.2" fill="#08ecf0"/>
<rect x="1473.0" y="1234.8" width="7.1" height="10.5" fill="#08ecf0"/>
<rect x="1473.0" y="1244.9" width="10.3" height="20.1" fill="#08ecf0"/>
<rect x="1473.0" y="1264.6" width="7.1" height="3.8" fill="#08ecf0"/>
<rect x="1301.5" y="1344.1" width="7.0" height="3.7" fill="#08ecf0"/>
<rect x="1298.2" y="1347.4" width="10.3" height="3.7" fill="#08ecf0"/>
<rect x="1298.2" y="1350.7" width="13.6" height="3.7" fill="#08ecf0"/>
<rect x="1294.9" y="1354.0" width="16.9" height="3.7" fill="#08ecf0"/>
<rect x="1294.9" y="1357.3" width="16.9" height="3.7" fill="#08ecf0"/>
<rect x="1294.9" y="1360.6" width="16.9" height="3.7" fill="#08ecf0"/>
<rect x="1291.6" y="1363.9" width="23.5" height="3.7" fill="#08ecf0"/>
<rect x="1291.6" y="1367.2" width="23.5" height="3.7" fill="#08ecf0"/>
<rect x="1291.6" y="1370.5" width="23.5" height="3.7" fill="#08ecf0"/>
<rect x="1291.6" y="1373.8" width="26.8" height="7.0" fill="#08ecf0"/>
<rect x="1288.3" y="1380.4" width="26.8" height="3.7" fill="#08ecf0"/>
<rect x="1288.3" y="1383.7" width="26.8" height="3.7" fill="#08ecf0"/>
<rect x="1288.3" y="1387.0" width="30.1" height="3.7" fill="#08ecf0"/>
<rect x="1288.3" y="1390.3" width="76.2" height="3.7" fill="#08ecf0"/>
<rect x="1285.0" y="1393.6" width="16.9" height="3.7" fill="#08ecf0"/>
<rect x="1321.3" y="1393.6" width="43.3" height="3.7" fill="#08ecf0"/>
<rect x="1285.0" y="1396.9" width="16.9" height="3.7" fill="#08ecf0"/>
<rect x="1334.5" y="1396.9" width="33.4" height="3.7" fill="#08ecf0"/>
<rect x="1285.0" y="1400.2" width="20.2" height="3.7" fill="#08ecf0"/>
<rect x="1314.7" y="1400.2" width="53.1" height="3.7" fill="#08ecf0"/>
<rect x="1285.0" y="1403.5" width="79.5" height="3.7" fill="#08ecf0"/>
<rect x="1288.3" y="1406.8" width="23.5" height="3.7" fill="#08ecf0"/>
<rect x="1294.9" y="1413.3" width="10.3" height="3.7" fill="#08ecf0"/>
<rect x="1285.0" y="1416.6" width="59.7" height="3.5" fill="#08ecf0"/>
<rect x="1341.1" y="1319.8" width="13.6" height="4.9" fill="#08ecf0"/>
<rect x="1341.1" y="1324.3" width="13.6" height="30.1" fill="#08ecf0"/>
<rect x="1341.1" y="1354.0" width="13.6" height="3.7" fill="#08ecf0"/>
<rect x="1341.1" y="1357.3" width="13.6" height="3.7" fill="#08ecf0"/>
<rect x="1337.8" y="1360.6" width="16.9" height="3.7" fill="#08ecf0"/>
<rect x="1337.8" y="1363.9" width="20.2" height="3.7" fill="#08ecf0"/>
<rect x="1334.5" y="1367.2" width="23.5" height="3.7" fill="#08ecf0"/>
<rect x="1334.5" y="1370.5" width="23.5" height="7.0" fill="#08ecf0"/>
<rect x="1334.5" y="1377.1" width="23.5" height="3.7" fill="#08ecf0"/>
<rect x="1337.8" y="1380.4" width="20.2" height="7.0" fill="#08ecf0"/>
<rect x="1334.5" y="1387.0" width="26.8" height="3.7" fill="#08ecf0"/>
<rect x="1284.9" y="1403.6" width="79.5" height="3.7" fill="#08ecf0"/>
<rect x="1288.2" y="1406.9" width="24.0" height="3.7" fill="#08ecf0"/>
<rect x="1294.7" y="1413.5" width="10.3" height="3.7" fill="#08ecf0"/>
<rect x="1284.9" y="1416.8" width="60.3" height="3.7" fill="#08ecf0"/>
<rect x="1281.6" y="1420.1" width="23.5" height="3.7" fill="#08ecf0"/>
<rect x="1340.9" y="1420.1" width="37.2" height="3.7" fill="#08ecf0"/>
<rect x="1275.0" y="1423.4" width="20.2" height="3.7" fill="#08ecf0"/>
<rect x="1371.1" y="1423.4" width="22.9" height="3.7" fill="#08ecf0"/>
<rect x="1271.7" y="1426.7" width="20.2" height="3.7" fill="#08ecf0"/>
<rect x="1393.6" y="1426.7" width="6.6" height="3.7" fill="#08ecf0"/>
<rect x="1268.6" y="1430.0" width="20.0" height="3.7" fill="#08ecf0"/>
<rect x="1268.6" y="1433.3" width="23.3" height="3.7" fill="#08ecf0"/>
<rect x="1275.0" y="1436.6" width="26.8" height="3.7" fill="#08ecf0"/>
<rect x="1288.2" y="1439.9" width="112.0" height="3.7" fill="#08ecf0"/>
<rect x="1380.7" y="1319.8" width="6.9" height="4.5" fill="#08ecf0"/>
<rect x="1397.3" y="1319.8" width="3.9" height="4.5" fill="#08ecf0"/>
<rect x="1380.7" y="1323.9" width="3.7" height="10.3" fill="#08ecf0"/>
<rect x="1397.3" y="1323.9" width="3.9" height="10.3" fill="#08ecf0"/>
<rect x="1380.7" y="1333.8" width="3.7" height="7.4" fill="#08ecf0"/>
<rect x="1393.8" y="1333.8" width="3.9" height="7.4" fill="#08ecf0"/>
<rect x="1380.7" y="1340.8" width="13.5" height="13.2" fill="#08ecf0"/>
<rect x="1384.0" y="1353.7" width="6.9" height="3.9" fill="#08ecf0"/>
<rect x="1440.3" y="1319.8" width="3.6" height="11.5" fill="#08ecf0"/>
<rect x="1453.4" y="1319.8" width="3.7" height="11.5" fill="#08ecf0"/>
<rect x="1440.3" y="1330.9" width="7.1" height="3.3" fill="#08ecf0"/>
<rect x="1453.4" y="1330.9" width="3.7" height="3.3" fill="#08ecf0"/>
<rect x="1440.3" y="1333.8" width="16.7" height="3.9" fill="#08ecf0"/>
<rect x="1443.4" y="1337.3" width="13.6" height="6.8" fill="#08ecf0"/>
<rect x="1473.2" y="1353.7" width="10.3" height="3.9" fill="#08ecf0"/>
<rect x="1469.9" y="1357.2" width="16.7" height="3.7" fill="#08ecf0"/>
<rect x="1466.8" y="1360.4" width="23.2" height="3.6" fill="#08ecf0"/>
<rect x="1460.1" y="1363.6" width="10.2" height="3.9" fill="#08ecf0"/>
<rect x="1486.3" y="1363.6" width="6.9" height="3.9" fill="#08ecf0"/>
<rect x="1456.6" y="1367.1" width="10.6" height="3.9" fill="#08ecf0"/>
<rect x="1489.5" y="1367.1" width="6.8" height="3.9" fill="#08ecf0"/>
<rect x="1453.4" y="1370.6" width="10.3" height="10.3" fill="#08ecf0"/>
<rect x="1492.8" y="1370.6" width="7.1" height="10.3" fill="#08ecf0"/>
<rect x="1456.6" y="1380.5" width="10.6" height="3.7" fill="#08ecf0"/>
<rect x="1492.8" y="1380.5" width="7.1" height="3.7" fill="#08ecf0"/>
<rect x="1463.3" y="1383.8" width="7.1" height="3.6" fill="#08ecf0"/>
<rect x="1492.8" y="1383.8" width="7.1" height="3.6" fill="#08ecf0"/>
<rect x="1466.8" y="1386.9" width="6.8" height="3.7" fill="#08ecf0"/>
<rect x="1489.5" y="1386.9" width="10.3" height="3.7" fill="#08ecf0"/>
<rect x="1463.3" y="1389.8" width="10.3" height="3.9" fill="#08ecf0"/>
<rect x="1489.5" y="1389.8" width="10.3" height="3.9" fill="#08ecf0"/>
<rect x="1456.9" y="1393.3" width="13.5" height="3.9" fill="#08ecf0"/>
<rect x="1486.3" y="1393.3" width="13.6" height="3.9" fill="#08ecf0"/>
<rect x="1443.4" y="1396.8" width="17.1" height="3.7" fill="#08ecf0"/>
<rect x="1486.3" y="1396.8" width="13.6" height="3.7" fill="#08ecf0"/>
<rect x="1437.0" y="1400.1" width="13.6" height="3.9" fill="#08ecf0"/>
<rect x="1486.3" y="1400.1" width="13.6" height="3.9" fill="#08ecf0"/>
<rect x="1427.1" y="1403.6" width="16.7" height="3.6" fill="#08ecf0"/>
<rect x="1486.3" y="1403.6" width="13.6" height="3.6" fill="#08ecf0"/>
<rect x="1420.4" y="1406.7" width="20.2" height="3.9" fill="#08ecf0"/>
<rect x="1483.1" y="1406.7" width="13.2" height="3.9" fill="#08ecf0"/>
<rect x="1417.2" y="1410.2" width="20.2" height="3.9" fill="#08ecf0"/>
<rect x="1479.6" y="1410.2" width="13.6" height="3.9" fill="#08ecf0"/>
<rect x="1420.4" y="1413.7" width="20.2" height="3.6" fill="#08ecf0"/>
<rect x="1476.5" y="1413.7" width="13.5" height="3.6" fill="#08ecf0"/>
<rect x="1430.0" y="1416.9" width="17.3" height="3.9" fill="#08ecf0"/>
<rect x="1476.5" y="1416.9" width="36.8" height="3.9" fill="#08ecf0"/>
<rect x="1440.3" y="1420.4" width="17.0" height="3.7" fill="#08ecf0"/>
<rect x="1479.6" y="1420.4" width="46.5" height="3.7" fill="#08ecf0"/>
<rect x="1379.8" y="1423.7" width="14.4" height="3.9" fill="#08ecf0"/>
<rect x="1437.0" y="1423.7" width="30.2" height="3.9" fill="#08ecf0"/>
<rect x="1486.3" y="1423.7" width="39.9" height="3.9" fill="#08ecf0"/>
<rect x="1393.8" y="1427.2" width="73.4" height="3.7" fill="#08ecf0"/>
<rect x="1486.3" y="1427.2" width="39.9" height="3.7" fill="#08ecf0"/>
<rect x="1423.6" y="1430.4" width="92.6" height="3.6" fill="#08ecf0"/>
<rect x="1423.6" y="1433.6" width="73.4" height="3.9" fill="#08ecf0"/>
<rect x="1410.4" y="1437.1" width="33.4" height="3.3" fill="#08ecf0"/>
<rect x="1379.8" y="1440.0" width="41.0" height="3.9" fill="#08ecf0"/>
<polygon points="602.4,1297.8 609.1,1297.8 612.1,1308.4 615.6,1331.0 618.6,1357.5 622.1,1377.9 625.4,1386.9 622.1,1397.5 622.1,1402.0 625.4,1407.3 632.2,1413.8 632.2,1427.0 629.2,1433.8 615.6,1436.8 596.0,1436.8 585.8,1433.8 582.4,1427.0 582.4,1410.3 585.8,1386.9 589.2,1367.3 592.5,1347.6 596.0,1324.2 599.0,1304.6" fill="#08ecf0"/>
<rect x="906.1" y="1218.6" width="3.0" height="29.8" fill="#08ecf0"/>
<rect x="909.1" y="1215.4" width="3.2" height="36.6" fill="#08ecf0"/>
<rect x="948.8" y="1112.7" width="3.2" height="73.2" fill="#08ecf0"/>
<rect x="961.8" y="1235.0" width="6.6" height="23.2" fill="#08ecf0"/>
<rect x="958.6" y="1254.6" width="3.2" height="17.9" fill="#08ecf0"/>
<rect x="965.0" y="1258.2" width="3.4" height="6.2" fill="#08ecf0"/>
<rect x="965.0" y="1288.6" width="3.4" height="11.4" fill="#08ecf0"/>
<rect x="1001.4" y="1202.0" width="6.4" height="53.0" fill="#08ecf0"/>
<rect x="1037.7" y="1252.0" width="3.2" height="42.0" fill="#08ecf0"/>
<rect x="1040.9" y="1255.0" width="3.4" height="38.9" fill="#08ecf0"/>
<rect x="1073.9" y="1215.4" width="3.0" height="46.1" fill="#08ecf0"/>
<rect x="1077.0" y="1211.8" width="3.9" height="53.0" fill="#08ecf0"/>
<polygon points="958.6,1295.2 965.0,1295.2 965.0,1288.0 968.4,1288.0 968.4,1307.7 965.0,1313.9 961.8,1317.5 955.2,1317.5 955.2,1301.4 958.6,1297.9" fill="#08ecf0"/>
<rect x="1037.7" y="1280.0" width="6.6" height="14.3" fill="#08ecf0"/>
<polygon points="952.0,1347.5 961.8,1347.5 965.0,1350.9 968.4,1354.1 968.4,1360.4 971.6,1363.9 971.6,1371.1 974.8,1373.8 974.8,1380.9 971.6,1387.1 968.4,1390.7 968.4,1393.9 961.8,1393.9 961.8,1390.7 955.2,1387.1 948.8,1384.5 948.8,1380.9 945.4,1377.3 945.4,1354.1 948.8,1350.9" fill="#08ecf0"/>
<polygon points="985.0,1420.5 1024.3,1420.5 1024.3,1423.8 1047.5,1423.8 1047.5,1427.0 1051.1,1427.0 1051.1,1430.4 1034.1,1430.4 1034.1,1433.6 1004.6,1433.6 1004.6,1436.8 988.2,1436.8 988.2,1440.2 975.2,1440.2 975.2,1443.4 922.1,1443.4 922.1,1440.2 915.7,1440.2 915.7,1433.6 922.1,1433.6 922.1,1430.4 938.9,1430.4 938.9,1427.0 955.2,1427.0 955.2,1423.8 985.0,1423.8" fill="#08ecf0"/>
<rect x="812.8" y="1503.0" width="427.4" height="3.6" fill="#08ecf0"/>
<rect x="812.8" y="1506.2" width="591.4" height="3.7" fill="#08ecf0"/>
<rect x="812.8" y="1509.5" width="591.4" height="3.7" fill="#08ecf0"/>
<rect x="812.8" y="1512.8" width="535.4" height="3.6" fill="#08ecf0"/>
<rect x="1301.4" y="1158.8" width="3.8" height="7.1" fill="#ff9808"/>
<rect x="1301.4" y="1165.6" width="7.0" height="33.6" fill="#ff9808"/>
<rect x="1301.4" y="1198.7" width="7.0" height="3.8" fill="#ff9808"/>
<rect x="1344.4" y="1301.1" width="3.7" height="10.5" fill="#ff9808"/>
<rect x="1390.9" y="1281.4" width="6.8" height="6.7" fill="#ff9808"/>
<rect x="1390.9" y="1287.7" width="10.1" height="7.1" fill="#ff9808"/>
<rect x="1390.9" y="1294.4" width="10.1" height="3.8" fill="#ff9808"/>
<rect x="1390.9" y="1297.8" width="10.1" height="3.8" fill="#ff9808"/>
<rect x="1394.2" y="1301.1" width="6.7" height="3.8" fill="#ff9808"/>
<rect x="1394.2" y="1304.5" width="6.7" height="3.8" fill="#ff9808"/>
<rect x="1394.2" y="1307.9" width="6.7" height="3.8" fill="#ff9808"/>
<rect x="1394.2" y="1311.2" width="3.5" height="3.8" fill="#ff9808"/>
<rect x="1390.9" y="1314.6" width="6.8" height="3.8" fill="#ff9808"/>
<rect x="1387.5" y="1318.0" width="10.2" height="6.7" fill="#ff9808"/>
<rect x="1383.9" y="1324.2" width="13.8" height="6.0" fill="#ff9808"/>
<rect x="1446.8" y="1294.4" width="6.8" height="3.8" fill="#ff9808"/>
<rect x="1443.3" y="1297.8" width="10.4" height="10.5" fill="#ff9808"/>
<rect x="1443.3" y="1307.9" width="10.4" height="3.8" fill="#ff9808"/>
<rect x="1443.3" y="1311.2" width="10.4" height="19.0" fill="#ff9808"/>
<rect x="1301.5" y="1393.6" width="20.2" height="3.7" fill="#ff9808"/>
<rect x="1301.5" y="1396.9" width="33.4" height="3.7" fill="#ff9808"/>
<rect x="1304.8" y="1400.2" width="10.3" height="3.7" fill="#ff9808"/>
<rect x="1304.6" y="1420.1" width="36.7" height="3.7" fill="#ff9808"/>
<rect x="1294.7" y="1423.4" width="76.8" height="3.7" fill="#ff9808"/>
<rect x="1291.4" y="1426.7" width="102.6" height="3.7" fill="#ff9808"/>
<rect x="1288.2" y="1430.0" width="112.0" height="3.7" fill="#ff9808"/>
<rect x="1291.4" y="1433.3" width="108.8" height="3.7" fill="#ff9808"/>
<rect x="1301.3" y="1436.6" width="98.9" height="3.7" fill="#ff9808"/>
<rect x="1387.3" y="1319.8" width="10.4" height="4.5" fill="#ff9808"/>
<rect x="1384.0" y="1323.9" width="13.7" height="10.3" fill="#ff9808"/>
<rect x="1384.0" y="1333.8" width="10.2" height="7.4" fill="#ff9808"/>
<rect x="1443.4" y="1319.8" width="10.3" height="11.5" fill="#ff9808"/>
<rect x="1446.9" y="1330.9" width="6.8" height="3.3" fill="#ff9808"/>
<rect x="1469.9" y="1363.6" width="16.7" height="3.9" fill="#ff9808"/>
<rect x="1466.8" y="1367.1" width="23.2" height="3.9" fill="#ff9808"/>
<rect x="1463.3" y="1370.6" width="29.9" height="10.3" fill="#ff9808"/>
<rect x="1466.8" y="1380.5" width="26.4" height="3.7" fill="#ff9808"/>
<rect x="1469.9" y="1383.8" width="23.3" height="3.6" fill="#ff9808"/>
<rect x="1473.2" y="1386.9" width="16.7" height="3.7" fill="#ff9808"/>
<rect x="1473.2" y="1389.8" width="16.7" height="3.9" fill="#ff9808"/>
<rect x="1469.9" y="1393.3" width="16.7" height="3.9" fill="#ff9808"/>
<rect x="1460.1" y="1396.8" width="26.6" height="3.7" fill="#ff9808"/>
<rect x="1450.2" y="1400.1" width="36.5" height="3.9" fill="#ff9808"/>
<rect x="1443.4" y="1403.6" width="43.2" height="3.6" fill="#ff9808"/>
<rect x="1440.3" y="1406.7" width="43.2" height="3.9" fill="#ff9808"/>
<rect x="1437.0" y="1410.2" width="43.0" height="3.9" fill="#ff9808"/>
<rect x="1440.3" y="1413.7" width="36.6" height="3.6" fill="#ff9808"/>
<rect x="1446.9" y="1416.9" width="29.9" height="3.9" fill="#ff9808"/>
<rect x="1456.9" y="1420.4" width="23.2" height="3.7" fill="#ff9808"/>
<rect x="1466.8" y="1423.7" width="19.9" height="3.9" fill="#ff9808"/>
<rect x="1379.8" y="1427.2" width="14.4" height="3.7" fill="#ff9808"/>
<rect x="1466.8" y="1427.2" width="19.9" height="3.7" fill="#ff9808"/>
<rect x="1379.8" y="1430.4" width="44.2" height="3.6" fill="#ff9808"/>
<rect x="1379.8" y="1433.6" width="44.2" height="3.9" fill="#ff9808"/>
<rect x="1379.8" y="1437.1" width="31.0" height="3.3" fill="#ff9808"/>
<polygon points="602.4,1314.4 609.1,1314.4 612.1,1331.0 615.6,1360.9 615.6,1393.7 612.1,1396.7 599.0,1396.7 596.0,1393.7 596.0,1350.7 599.0,1324.2" fill="#ff9808"/>
<rect x="961.8" y="1258.2" width="3.2" height="39.3" fill="#ff9808"/>
<rect x="958.6" y="1271.6" width="3.2" height="22.3" fill="#ff9808"/>
<rect x="965.0" y="1264.5" width="3.4" height="24.1" fill="#ff9808"/>
<rect x="958.6" y="1280.0" width="9.8" height="8.0" fill="#ff9808"/>
<rect x="958.6" y="1288.0" width="6.4" height="9.8" fill="#ff9808"/>
<polygon points="955.2,1357.3 961.8,1357.3 965.0,1360.7 965.0,1377.3 952.0,1377.3 952.0,1360.7" fill="#ff9808"/>
</g>
<clipPath id="clipcoi"><path d="M228.7,1066.0 C228.7,1068.0 228.7,1074.0 228.7,1078.0 C228.7,1082.0 228.8,1086.0 228.8,1090.0 C228.8,1094.0 228.8,1098.0 228.9,1102.0 C228.9,1106.0 228.9,1110.0 228.9,1114.0 C229.0,1118.0 229.0,1122.0 229.0,1126.0 C229.0,1130.0 229.1,1134.0 229.1,1138.0 C229.1,1142.0 229.2,1146.0 229.2,1150.0 C229.2,1154.0 229.3,1158.0 229.3,1162.0 C229.4,1166.0 229.4,1170.0 229.5,1174.0 C229.5,1178.0 229.6,1182.0 229.6,1186.0 C229.7,1190.0 229.7,1194.0 229.8,1198.0 C229.9,1202.0 229.9,1206.0 230.0,1210.0 C230.1,1214.0 230.2,1218.0 230.3,1222.0 C230.3,1226.0 230.4,1230.0 230.5,1234.0 C230.7,1238.0 230.8,1242.0 230.9,1246.0 C231.0,1250.0 231.1,1254.0 231.3,1258.0 C231.4,1262.0 231.6,1266.0 231.8,1270.0 C232.0,1274.0 232.1,1278.0 232.4,1282.0 C232.6,1286.0 232.8,1290.0 233.1,1294.0 C233.3,1298.0 233.7,1303.0 233.9,1306.0 C234.2,1309.0 234.3,1310.0 234.4,1312.0 C234.6,1314.0 234.8,1316.0 235.0,1318.0 C235.2,1320.0 235.4,1322.0 235.6,1324.0 C235.9,1326.0 236.1,1328.0 236.3,1330.0 C236.6,1332.0 236.9,1334.0 237.1,1336.0 C237.4,1338.0 237.7,1340.0 238.0,1342.0 C238.4,1344.0 238.7,1346.0 239.0,1348.0 C239.4,1350.0 239.8,1352.0 240.2,1354.0 C240.6,1356.0 241.0,1358.0 241.5,1360.0 C242.0,1362.0 242.4,1364.0 243.0,1366.0 C243.5,1368.0 244.1,1370.0 244.7,1372.0 C245.3,1374.0 245.9,1376.0 246.6,1378.0 C247.3,1380.0 248.0,1382.0 248.8,1384.0 C249.6,1386.0 250.5,1388.0 251.4,1390.0 C252.3,1392.0 253.3,1394.0 254.4,1396.0 C255.5,1398.0 256.6,1400.0 257.9,1402.0 C259.1,1404.0 260.5,1406.0 261.9,1408.0 C263.4,1410.0 264.9,1412.0 266.7,1414.0 C268.4,1416.0 270.2,1418.0 272.3,1420.0 C274.3,1422.0 276.4,1424.0 278.8,1426.0 C281.2,1428.0 283.8,1430.0 286.7,1432.0 C289.5,1434.0 293.8,1436.7 296.0,1438.0 C298.1,1439.3 297.2,1438.8 299.5,1440.0 C301.7,1441.2 306.1,1443.5 309.5,1445.1 C312.8,1446.7 316.1,1448.2 319.5,1449.6 C322.8,1451.0 326.1,1452.2 329.5,1453.5 C332.8,1454.7 336.1,1455.8 339.5,1456.9 C342.8,1458.0 346.1,1459.0 349.5,1460.0 C352.8,1461.0 356.1,1461.9 359.5,1462.8 C362.8,1463.7 366.1,1464.6 369.5,1465.4 C372.8,1466.2 376.1,1467.0 379.5,1467.8 C382.8,1468.6 386.1,1469.3 389.5,1470.0 C392.8,1470.7 396.1,1471.4 399.5,1472.0 C402.8,1472.7 402.8,1472.8 409.5,1473.9 C416.1,1475.1 429.5,1477.4 439.5,1479.0 C449.5,1480.5 459.5,1481.9 469.5,1483.3 C479.5,1484.6 489.5,1485.8 499.5,1487.0 C509.5,1488.1 519.5,1489.2 529.5,1490.2 C539.5,1491.3 549.5,1492.2 559.5,1493.1 C569.5,1494.0 579.5,1494.9 589.5,1495.7 C599.5,1496.6 609.5,1497.4 619.5,1498.1 C629.5,1498.9 639.5,1499.6 649.5,1500.3 C659.5,1501.0 669.5,1501.6 679.5,1502.3 C689.5,1502.9 699.5,1503.5 709.5,1504.1 C719.5,1504.7 729.5,1505.3 739.5,1505.9 C749.5,1506.4 759.5,1507.0 769.5,1507.5 C779.5,1508.0 789.5,1508.5 799.5,1509.0 C809.5,1509.5 819.5,1510.0 829.5,1510.4 C839.5,1510.9 849.5,1511.4 859.5,1511.8 C869.4,1512.1 879.2,1512.4 889.1,1512.4 C899.0,1512.4 908.8,1512.1 918.7,1511.8 C928.7,1511.4 938.7,1510.9 948.7,1510.4 C958.7,1510.0 968.7,1509.5 978.7,1509.0 C988.7,1508.5 998.7,1508.0 1008.7,1507.5 C1018.7,1507.0 1028.7,1506.4 1038.7,1505.9 C1048.7,1505.3 1058.7,1504.7 1068.7,1504.1 C1078.7,1503.5 1088.7,1502.9 1098.7,1502.3 C1108.7,1501.6 1118.7,1501.0 1128.7,1500.3 C1138.7,1499.6 1148.7,1498.9 1158.7,1498.1 C1168.7,1497.4 1178.7,1496.6 1188.7,1495.7 C1198.7,1494.9 1208.7,1494.0 1218.7,1493.1 C1228.7,1492.2 1238.7,1491.3 1248.7,1490.2 C1258.7,1489.2 1268.7,1488.1 1278.7,1487.0 C1288.7,1485.8 1298.7,1484.6 1308.7,1483.3 C1318.7,1481.9 1328.7,1480.5 1338.7,1479.0 C1348.7,1477.4 1362.1,1475.1 1368.7,1473.9 C1375.4,1472.8 1375.4,1472.7 1378.7,1472.0 C1382.1,1471.4 1385.4,1470.7 1388.7,1470.0 C1392.1,1469.3 1395.4,1468.6 1398.7,1467.8 C1402.1,1467.0 1405.4,1466.2 1408.7,1465.4 C1412.1,1464.6 1415.4,1463.7 1418.7,1462.8 C1422.1,1461.9 1425.4,1461.0 1428.7,1460.0 C1432.1,1459.0 1435.4,1458.0 1438.7,1456.9 C1442.1,1455.8 1445.4,1454.7 1448.7,1453.5 C1452.1,1452.2 1455.4,1451.0 1458.7,1449.6 C1462.1,1448.2 1465.4,1446.7 1468.7,1445.1 C1472.1,1443.5 1476.5,1441.2 1478.7,1440.0 C1481.0,1438.8 1480.1,1439.3 1482.2,1438.0 C1484.4,1436.7 1488.7,1434.0 1491.5,1432.0 C1494.4,1430.0 1497.0,1428.0 1499.4,1426.0 C1501.8,1424.0 1503.9,1422.0 1505.9,1420.0 C1508.0,1418.0 1509.8,1416.0 1511.5,1414.0 C1513.3,1412.0 1514.8,1410.0 1516.3,1408.0 C1517.7,1406.0 1519.1,1404.0 1520.3,1402.0 C1521.6,1400.0 1522.7,1398.0 1523.8,1396.0 C1524.9,1394.0 1525.9,1392.0 1526.8,1390.0 C1527.7,1388.0 1528.6,1386.0 1529.4,1384.0 C1530.2,1382.0 1530.9,1380.0 1531.6,1378.0 C1532.3,1376.0 1532.9,1374.0 1533.5,1372.0 C1534.1,1370.0 1534.7,1368.0 1535.2,1366.0 C1535.8,1364.0 1536.2,1362.0 1536.7,1360.0 C1537.2,1358.0 1537.6,1356.0 1538.0,1354.0 C1538.4,1352.0 1538.8,1350.0 1539.2,1348.0 C1539.5,1346.0 1539.8,1344.0 1540.2,1342.0 C1540.5,1340.0 1540.8,1338.0 1541.1,1336.0 C1541.3,1334.0 1541.6,1332.0 1541.9,1330.0 C1542.1,1328.0 1542.3,1326.0 1542.6,1324.0 C1542.8,1322.0 1543.0,1320.0 1543.2,1318.0 C1543.4,1316.0 1543.6,1314.0 1543.8,1312.0 C1543.9,1310.0 1544.0,1309.0 1544.3,1306.0 C1544.5,1303.0 1544.9,1298.0 1545.1,1294.0 C1545.4,1290.0 1545.6,1286.0 1545.8,1282.0 C1546.1,1278.0 1546.2,1274.0 1546.4,1270.0 C1546.6,1266.0 1546.8,1262.0 1546.9,1258.0 C1547.1,1254.0 1547.2,1250.0 1547.3,1246.0 C1547.4,1242.0 1547.5,1238.0 1547.7,1234.0 C1547.8,1230.0 1547.9,1226.0 1547.9,1222.0 C1548.0,1218.0 1548.1,1214.0 1548.2,1210.0 C1548.3,1206.0 1548.3,1202.0 1548.4,1198.0 C1548.5,1194.0 1548.5,1190.0 1548.6,1186.0 C1548.6,1182.0 1548.7,1178.0 1548.7,1174.0 C1548.8,1170.0 1548.8,1166.0 1548.9,1162.0 C1548.9,1158.0 1549.0,1154.0 1549.0,1150.0 C1549.0,1146.0 1549.1,1142.0 1549.1,1138.0 C1549.1,1134.0 1549.2,1130.0 1549.2,1126.0 C1549.2,1122.0 1549.2,1118.0 1549.3,1114.0 C1549.3,1110.0 1549.3,1106.0 1549.3,1102.0 C1549.4,1098.0 1549.4,1094.0 1549.4,1090.0 C1549.4,1086.0 1549.5,1082.0 1549.5,1078.0 C1549.5,1074.0 1549.5,1068.0 1549.5,1066.0 L1551.4,1071.3 L1551.4,1535.8 L227.8,1535.8 L227.8,1071.3 Z"/></clipPath>
<g clip-path="url(#clipb)">
<g clip-path="url(#clipcoi)">
<rect x="232.8" y="1071.3" width="1313.6" height="464.5" fill="#000" fill-opacity="0.27"/>
<path d="M-243.7,1060 L236.3,1540 M-164.5,1060 L315.5,1540 M-85.3,1060 L394.7,1540 M-6.1,1060 L473.9,1540 M73.1,1060 L553.1,1540 M152.3,1060 L632.3,1540 M231.5,1060 L711.5,1540 M310.7,1060 L790.7,1540 M389.9,1060 L869.9,1540 M469.1,1060 L949.1,1540 M548.3,1060 L1028.3,1540 M259.3,1060 L-220.7,1540 M627.5,1060 L1107.5,1540 M338.5,1060 L-141.5,1540 M706.7,1060 L1186.7,1540 M417.7,1060 L-62.3,1540 M785.9,1060 L1265.9,1540 M496.9,1060 L16.9,1540 M865.1,1060 L1345.1,1540 M576.1,1060 L96.1,1540 M944.3,1060 L1424.3,1540 M655.3,1060 L175.3,1540 M1023.5,1060 L1503.5,1540 M734.5,1060 L254.5,1540 M1102.7,1060 L1582.7,1540 M813.7,1060 L333.7,1540 M1181.9,1060 L1661.9,1540 M892.9,1060 L412.9,1540 M1261.1,1060 L1741.1,1540 M972.1,1060 L492.1,1540 M1340.3,1060 L1820.3,1540 M1051.3,1060 L571.3,1540 M1419.5,1060 L1899.5,1540 M1130.5,1060 L650.5,1540 M1498.7,1060 L1978.7,1540 M1209.7,1060 L729.7,1540 M1288.9,1060 L808.9,1540 M1368.1,1060 L888.1,1540 M1447.3,1060 L967.3,1540 M1526.5,1060 L1046.5,1540 M1605.7,1060 L1125.7,1540 M1684.9,1060 L1204.9,1540 M1764.1,1060 L1284.1,1540 M1843.3,1060 L1363.3,1540 M1922.5,1060 L1442.5,1540 M2001.7,1060 L1521.7,1540" stroke="#000" stroke-width="2.3" fill="none"/>
</g></g>
<rect x="229.6" y="1330" width="3.4" height="205.8" fill="#8c8cc6"/>
<rect x="1546.4" y="1330" width="3" height="205.8" fill="#c0c0e0"/>
<path d="M228.7,1066.0 C228.7,1068.0 228.7,1074.0 228.7,1078.0 C228.7,1082.0 228.8,1086.0 228.8,1090.0 C228.8,1094.0 228.8,1098.0 228.9,1102.0 C228.9,1106.0 228.9,1110.0 228.9,1114.0 C229.0,1118.0 229.0,1122.0 229.0,1126.0 C229.0,1130.0 229.1,1134.0 229.1,1138.0 C229.1,1142.0 229.2,1146.0 229.2,1150.0 C229.2,1154.0 229.3,1158.0 229.3,1162.0 C229.4,1166.0 229.4,1170.0 229.5,1174.0 C229.5,1178.0 229.6,1182.0 229.6,1186.0 C229.7,1190.0 229.7,1194.0 229.8,1198.0 C229.9,1202.0 229.9,1206.0 230.0,1210.0 C230.1,1214.0 230.2,1218.0 230.3,1222.0 C230.3,1226.0 230.4,1230.0 230.5,1234.0 C230.7,1238.0 230.8,1242.0 230.9,1246.0 C231.0,1250.0 231.1,1254.0 231.3,1258.0 C231.4,1262.0 231.6,1266.0 231.8,1270.0 C232.0,1274.0 232.1,1278.0 232.4,1282.0 C232.6,1286.0 232.8,1290.0 233.1,1294.0 C233.3,1298.0 233.7,1303.0 233.9,1306.0 C234.2,1309.0 234.3,1310.0 234.4,1312.0 C234.6,1314.0 234.8,1316.0 235.0,1318.0 C235.2,1320.0 235.4,1322.0 235.6,1324.0 C235.9,1326.0 236.1,1328.0 236.3,1330.0 C236.6,1332.0 236.9,1334.0 237.1,1336.0 C237.4,1338.0 237.7,1340.0 238.0,1342.0 C238.4,1344.0 238.7,1346.0 239.0,1348.0 C239.4,1350.0 239.8,1352.0 240.2,1354.0 C240.6,1356.0 241.0,1358.0 241.5,1360.0 C242.0,1362.0 242.4,1364.0 243.0,1366.0 C243.5,1368.0 244.1,1370.0 244.7,1372.0 C245.3,1374.0 245.9,1376.0 246.6,1378.0 C247.3,1380.0 248.0,1382.0 248.8,1384.0 C249.6,1386.0 250.5,1388.0 251.4,1390.0 C252.3,1392.0 253.3,1394.0 254.4,1396.0 C255.5,1398.0 256.6,1400.0 257.9,1402.0 C259.1,1404.0 260.5,1406.0 261.9,1408.0 C263.4,1410.0 264.9,1412.0 266.7,1414.0 C268.4,1416.0 270.2,1418.0 272.3,1420.0 C274.3,1422.0 276.4,1424.0 278.8,1426.0 C281.2,1428.0 283.8,1430.0 286.7,1432.0 C289.5,1434.0 293.8,1436.7 296.0,1438.0 C298.1,1439.3 297.2,1438.8 299.5,1440.0 C301.7,1441.2 306.1,1443.5 309.5,1445.1 C312.8,1446.7 316.1,1448.2 319.5,1449.6 C322.8,1451.0 326.1,1452.2 329.5,1453.5 C332.8,1454.7 336.1,1455.8 339.5,1456.9 C342.8,1458.0 346.1,1459.0 349.5,1460.0 C352.8,1461.0 356.1,1461.9 359.5,1462.8 C362.8,1463.7 366.1,1464.6 369.5,1465.4 C372.8,1466.2 376.1,1467.0 379.5,1467.8 C382.8,1468.6 386.1,1469.3 389.5,1470.0 C392.8,1470.7 396.1,1471.4 399.5,1472.0 C402.8,1472.7 402.8,1472.8 409.5,1473.9 C416.1,1475.1 429.5,1477.4 439.5,1479.0 C449.5,1480.5 459.5,1481.9 469.5,1483.3 C479.5,1484.6 489.5,1485.8 499.5,1487.0 C509.5,1488.1 519.5,1489.2 529.5,1490.2 C539.5,1491.3 549.5,1492.2 559.5,1493.1 C569.5,1494.0 579.5,1494.9 589.5,1495.7 C599.5,1496.6 609.5,1497.4 619.5,1498.1 C629.5,1498.9 639.5,1499.6 649.5,1500.3 C659.5,1501.0 669.5,1501.6 679.5,1502.3 C689.5,1502.9 699.5,1503.5 709.5,1504.1 C719.5,1504.7 729.5,1505.3 739.5,1505.9 C749.5,1506.4 759.5,1507.0 769.5,1507.5 C779.5,1508.0 789.5,1508.5 799.5,1509.0 C809.5,1509.5 819.5,1510.0 829.5,1510.4 C839.5,1510.9 849.5,1511.4 859.5,1511.8 C869.4,1512.1 879.2,1512.4 889.1,1512.4 C899.0,1512.4 908.8,1512.1 918.7,1511.8 C928.7,1511.4 938.7,1510.9 948.7,1510.4 C958.7,1510.0 968.7,1509.5 978.7,1509.0 C988.7,1508.5 998.7,1508.0 1008.7,1507.5 C1018.7,1507.0 1028.7,1506.4 1038.7,1505.9 C1048.7,1505.3 1058.7,1504.7 1068.7,1504.1 C1078.7,1503.5 1088.7,1502.9 1098.7,1502.3 C1108.7,1501.6 1118.7,1501.0 1128.7,1500.3 C1138.7,1499.6 1148.7,1498.9 1158.7,1498.1 C1168.7,1497.4 1178.7,1496.6 1188.7,1495.7 C1198.7,1494.9 1208.7,1494.0 1218.7,1493.1 C1228.7,1492.2 1238.7,1491.3 1248.7,1490.2 C1258.7,1489.2 1268.7,1488.1 1278.7,1487.0 C1288.7,1485.8 1298.7,1484.6 1308.7,1483.3 C1318.7,1481.9 1328.7,1480.5 1338.7,1479.0 C1348.7,1477.4 1362.1,1475.1 1368.7,1473.9 C1375.4,1472.8 1375.4,1472.7 1378.7,1472.0 C1382.1,1471.4 1385.4,1470.7 1388.7,1470.0 C1392.1,1469.3 1395.4,1468.6 1398.7,1467.8 C1402.1,1467.0 1405.4,1466.2 1408.7,1465.4 C1412.1,1464.6 1415.4,1463.7 1418.7,1462.8 C1422.1,1461.9 1425.4,1461.0 1428.7,1460.0 C1432.1,1459.0 1435.4,1458.0 1438.7,1456.9 C1442.1,1455.8 1445.4,1454.7 1448.7,1453.5 C1452.1,1452.2 1455.4,1451.0 1458.7,1449.6 C1462.1,1448.2 1465.4,1446.7 1468.7,1445.1 C1472.1,1443.5 1476.5,1441.2 1478.7,1440.0 C1481.0,1438.8 1480.1,1439.3 1482.2,1438.0 C1484.4,1436.7 1488.7,1434.0 1491.5,1432.0 C1494.4,1430.0 1497.0,1428.0 1499.4,1426.0 C1501.8,1424.0 1503.9,1422.0 1505.9,1420.0 C1508.0,1418.0 1509.8,1416.0 1511.5,1414.0 C1513.3,1412.0 1514.8,1410.0 1516.3,1408.0 C1517.7,1406.0 1519.1,1404.0 1520.3,1402.0 C1521.6,1400.0 1522.7,1398.0 1523.8,1396.0 C1524.9,1394.0 1525.9,1392.0 1526.8,1390.0 C1527.7,1388.0 1528.6,1386.0 1529.4,1384.0 C1530.2,1382.0 1530.9,1380.0 1531.6,1378.0 C1532.3,1376.0 1532.9,1374.0 1533.5,1372.0 C1534.1,1370.0 1534.7,1368.0 1535.2,1366.0 C1535.8,1364.0 1536.2,1362.0 1536.7,1360.0 C1537.2,1358.0 1537.6,1356.0 1538.0,1354.0 C1538.4,1352.0 1538.8,1350.0 1539.2,1348.0 C1539.5,1346.0 1539.8,1344.0 1540.2,1342.0 C1540.5,1340.0 1540.8,1338.0 1541.1,1336.0 C1541.3,1334.0 1541.6,1332.0 1541.9,1330.0 C1542.1,1328.0 1542.3,1326.0 1542.6,1324.0 C1542.8,1322.0 1543.0,1320.0 1543.2,1318.0 C1543.4,1316.0 1543.6,1314.0 1543.8,1312.0 C1543.9,1310.0 1544.0,1309.0 1544.3,1306.0 C1544.5,1303.0 1544.9,1298.0 1545.1,1294.0 C1545.4,1290.0 1545.6,1286.0 1545.8,1282.0 C1546.1,1278.0 1546.2,1274.0 1546.4,1270.0 C1546.6,1266.0 1546.8,1262.0 1546.9,1258.0 C1547.1,1254.0 1547.2,1250.0 1547.3,1246.0 C1547.4,1242.0 1547.5,1238.0 1547.7,1234.0 C1547.8,1230.0 1547.9,1226.0 1547.9,1222.0 C1548.0,1218.0 1548.1,1214.0 1548.2,1210.0 C1548.3,1206.0 1548.3,1202.0 1548.4,1198.0 C1548.5,1194.0 1548.5,1190.0 1548.6,1186.0 C1548.6,1182.0 1548.7,1178.0 1548.7,1174.0 C1548.8,1170.0 1548.8,1166.0 1548.9,1162.0 C1548.9,1158.0 1549.0,1154.0 1549.0,1150.0 C1549.0,1146.0 1549.1,1142.0 1549.1,1138.0 C1549.1,1134.0 1549.2,1130.0 1549.2,1126.0 C1549.2,1122.0 1549.2,1118.0 1549.3,1114.0 C1549.3,1110.0 1549.3,1106.0 1549.3,1102.0 C1549.4,1098.0 1549.4,1094.0 1549.4,1090.0 C1549.4,1086.0 1549.5,1082.0 1549.5,1078.0 C1549.5,1074.0 1549.5,1068.0 1549.5,1066.0" fill="none" stroke="#fff" stroke-width="7.6" stroke-linejoin="round"/>
<g filter="url(#bb)">
<rect x="227.8" y="1071.3" width="1326.4" height="472.9" fill="none" stroke="#1e1e1e" stroke-width="3.2"/>
<line x1="232.8" y1="1071.3" x2="1546.4" y2="1071.3" stroke="#00001c" stroke-width="3.2"/>
<line x1="270.7" y1="1544.2" x2="270.7" y2="1558.7" stroke="#1e1e1e" stroke-width="3"/>
<text transform="translate(270.2,1611.6) scale(1.055,1)" font-size="57" text-anchor="middle">1992</text>
<line x1="448.0" y1="1544.2" x2="448.0" y2="1558.7" stroke="#1e1e1e" stroke-width="3"/>
<text transform="translate(447.5,1611.6) scale(1.055,1)" font-size="57" text-anchor="middle">1996</text>
<line x1="625.0" y1="1544.2" x2="625.0" y2="1558.7" stroke="#1e1e1e" stroke-width="3"/>
<text transform="translate(624.5,1611.6) scale(1.055,1)" font-size="57" text-anchor="middle">2000</text>
<line x1="802.0" y1="1544.2" x2="802.0" y2="1558.7" stroke="#1e1e1e" stroke-width="3"/>
<text transform="translate(801.5,1611.6) scale(1.055,1)" font-size="57" text-anchor="middle">2004</text>
<line x1="979.0" y1="1544.2" x2="979.0" y2="1558.7" stroke="#1e1e1e" stroke-width="3"/>
<text transform="translate(978.5,1611.6) scale(1.055,1)" font-size="57" text-anchor="middle">2008</text>
<line x1="1154.5" y1="1544.2" x2="1154.5" y2="1558.7" stroke="#1e1e1e" stroke-width="3"/>
<text transform="translate(1154.0,1611.6) scale(1.055,1)" font-size="57" text-anchor="middle">2012</text>
<line x1="1333.0" y1="1544.2" x2="1333.0" y2="1558.7" stroke="#1e1e1e" stroke-width="3"/>
<text transform="translate(1332.5,1611.6) scale(1.055,1)" font-size="57" text-anchor="middle">2016</text>
<line x1="1508.0" y1="1544.2" x2="1508.0" y2="1558.7" stroke="#1e1e1e" stroke-width="3"/>
<text transform="translate(1507.5,1611.6) scale(1.055,1)" font-size="57" text-anchor="middle">2020</text>
<line x1="216.3" y1="1071.3" x2="227.8" y2="1071.3" stroke="#1e1e1e" stroke-width="3"/>
<text transform="translate(203.0,1091.9) scale(1.055,1)" font-size="57" text-anchor="end">1.0</text>
<line x1="216.3" y1="1203.4" x2="227.8" y2="1203.4" stroke="#1e1e1e" stroke-width="3"/>
<text transform="translate(203.0,1224.0) scale(1.055,1)" font-size="57" text-anchor="end">2.0</text>
<line x1="216.3" y1="1339.0" x2="227.8" y2="1339.0" stroke="#1e1e1e" stroke-width="3"/>
<text transform="translate(203.0,1359.6) scale(1.055,1)" font-size="57" text-anchor="end">4.0</text>
<line x1="216.3" y1="1474.9" x2="227.8" y2="1474.9" stroke="#1e1e1e" stroke-width="3"/>
<text transform="translate(203.0,1495.5) scale(1.055,1)" font-size="57" text-anchor="end">8.0</text>
<text transform="translate(889.5,1047.3) scale(0.985,1)" font-size="59" text-anchor="middle">(b)</text>
<text transform="translate(889.5,1684.8) scale(1.012,1)" font-size="58" text-anchor="middle">Years</text>
<text transform="translate(78,1310) scale(1.03,1) rotate(-90)" font-size="59.6" text-anchor="middle">Period (days)</text>
</g>
</g>
<g id="panel-c" filter="url(#bc)">
<clipPath id="clipc"><rect x="623.4" y="1824.6" width="493.4" height="772.0"/></clipPath>
<path d="M622.5,1828.5 C622.5,1836.7 622.4,1842.4 622.7,1859.4 C622.9,1876.4 622.9,1878.9 623.5,1892.4 C624.1,1905.8 624.1,1900.8 624.9,1909.9 C625.8,1918.9 625.7,1917.6 626.6,1926.4 C627.5,1935.2 627.0,1933.2 628.2,1942.8 C629.5,1952.5 629.6,1952.8 631.3,1962.4 C633.0,1972.0 632.5,1969.6 634.6,1978.9 C636.7,1988.2 637.4,1988.1 639.2,1997.5 C640.9,2006.8 639.3,2005.7 641.2,2013.9 C643.1,2022.2 643.6,2020.1 646.4,2028.4 C649.1,2036.6 649.3,2036.6 651.5,2044.8 C653.7,2053.1 652.4,2052.1 654.6,2059.3 C656.8,2066.4 657.3,2064.5 659.8,2071.6 C662.2,2078.8 661.4,2079.5 663.9,2086.1 C666.4,2092.7 666.0,2090.9 669.0,2096.4 C672.1,2101.9 672.5,2099.5 675.2,2106.7 C678.0,2113.8 677.7,2114.4 679.3,2123.1 C681.0,2131.9 679.5,2132.8 681.4,2139.6 C683.3,2146.5 682.4,2144.5 686.5,2148.9 C690.7,2153.3 690.3,2152.3 696.8,2156.1 C703.4,2160.0 703.0,2159.8 711.3,2163.3 C719.5,2166.9 719.5,2166.2 727.8,2169.5 C736.0,2172.8 736.8,2172.1 742.2,2175.7 C747.6,2179.3 747.4,2179.3 747.9,2182.9 C748.5,2186.5 747.4,2185.8 744.2,2189.1 C741.1,2192.4 738.5,2191.4 736.0,2195.3 C733.5,2199.1 733.9,2199.7 735.0,2203.5 C736.1,2207.4 736.0,2206.4 740.1,2209.7 C744.2,2213.0 745.8,2212.6 750.4,2215.9 C755.1,2219.2 755.5,2218.2 757.6,2222.1 C759.7,2225.9 759.6,2226.5 758.3,2230.3 C756.9,2234.1 756.6,2233.0 752.5,2236.5 C748.4,2240.0 747.3,2240.1 742.9,2243.4 C738.5,2246.6 737.1,2245.5 736.0,2248.8 C734.9,2252.1 734.0,2252.4 738.7,2255.7 C743.5,2259.0 742.5,2258.6 753.8,2261.2 C765.2,2263.8 763.7,2263.1 781.3,2265.3 C798.9,2267.5 798.5,2267.3 819.8,2269.5 C841.0,2271.6 839.0,2271.4 861.0,2273.6 C883.0,2275.8 883.9,2275.3 902.2,2277.7 C920.5,2280.1 919.4,2280.4 929.7,2282.6 C939.9,2284.8 942.1,2284.0 940.7,2285.9 C939.2,2287.9 938.1,2288.0 924.2,2290.1 C910.3,2292.1 909.0,2291.9 888.5,2293.6 C867.9,2295.3 869.2,2294.8 847.3,2296.4 C825.3,2298.0 828.0,2297.7 806.0,2299.7 C784.1,2301.6 784.6,2301.2 764.8,2303.8 C745.1,2306.4 745.8,2306.0 731.9,2309.3 C717.9,2312.6 720.0,2312.1 712.6,2316.2 C705.3,2320.2 707.0,2320.0 704.4,2324.4 C701.8,2328.8 701.9,2328.2 703.0,2332.6 C704.1,2337.0 704.9,2336.5 708.5,2340.9 C712.2,2345.3 713.8,2344.7 716.8,2349.1 C719.7,2353.5 717.3,2353.3 719.5,2357.4 C721.7,2361.4 720.2,2361.3 725.0,2364.2 C729.8,2367.2 730.8,2365.8 737.4,2368.4 C744.0,2370.9 746.1,2370.9 749.7,2373.8 C753.4,2376.8 752.9,2376.4 751.1,2379.3 C749.3,2382.3 749.5,2381.9 742.9,2384.8 C736.3,2387.8 733.3,2387.4 726.4,2390.3 C719.4,2393.3 720.4,2392.2 716.8,2395.8 C713.1,2399.5 715.9,2400.0 712.6,2404.1 C709.3,2408.1 712.5,2407.6 704.4,2410.9 C696.3,2414.2 694.1,2413.3 682.4,2416.4 C670.7,2419.6 671.4,2419.2 660.4,2422.7 C649.5,2426.3 647.8,2426.0 641.2,2429.6 C634.6,2433.3 635.7,2432.8 635.7,2436.5 C635.7,2440.1 634.6,2439.8 641.2,2443.4 C647.8,2446.9 645.8,2446.5 660.4,2449.7 C675.1,2452.8 675.6,2452.5 696.2,2455.2 C716.7,2457.9 711.7,2457.5 737.4,2459.8 C763.0,2462.2 763.0,2461.8 792.3,2464.0 C821.6,2466.2 817.9,2466.0 847.3,2468.1 C876.6,2470.1 872.9,2469.7 902.2,2471.6 C931.5,2473.6 929.2,2473.3 957.1,2475.5 C985.1,2477.7 990.5,2477.7 1007.2,2479.9 C1023.8,2482.2 1019.5,2482.1 1019.5,2484.1 C1019.5,2486.0 1017.0,2485.5 1007.2,2487.2 C997.3,2488.8 995.8,2489.0 982.4,2490.2 C969.1,2491.5 978.5,2489.8 957.1,2492.0 C935.7,2494.1 931.5,2495.4 902.2,2498.3 C872.9,2501.2 876.6,2500.5 847.3,2503.0 C817.9,2505.4 821.6,2504.9 792.3,2507.4 C763.0,2509.8 759.3,2509.8 737.4,2512.0 C715.4,2514.2 722.0,2513.8 709.9,2515.6 C697.8,2517.4 698.6,2516.2 692.0,2518.9 C685.4,2521.6 688.5,2522.5 685.2,2525.8 C681.9,2529.1 685.5,2528.3 679.7,2531.3 C673.8,2534.2 670.5,2533.8 663.2,2536.8 C655.9,2539.7 655.9,2539.7 652.2,2542.3 C648.5,2544.8 648.7,2543.8 649.5,2546.4 C650.2,2548.9 648.4,2548.9 654.9,2551.9 C661.5,2554.8 665.0,2554.8 674.2,2557.4 C683.3,2559.9 684.5,2559.4 689.3,2561.5 C694.0,2563.5 693.1,2562.9 692.0,2565.1 C690.9,2567.3 692.9,2567.0 685.2,2569.7 C677.5,2572.4 674.9,2572.3 663.2,2575.2 C651.5,2578.2 650.7,2577.8 641.2,2580.7 C631.7,2583.6 632.2,2582.9 627.5,2586.2 C622.7,2589.5 624.6,2589.8 623.4,2593.1 C622.1,2596.4 622.9,2597.1 622.8,2598.6" fill="none" stroke="#ff0000" stroke-width="4.8" stroke-linejoin="round" stroke-linecap="butt" clip-path="url(#clipc)"/>
<rect x="623.4" y="1824.6" width="493.4" height="772.0" fill="none" stroke="#141414" stroke-width="3.6"/>
<line x1="623.4" y1="1824.6" x2="623.4" y2="1946.0" stroke="#2a0000" stroke-width="3.3"/>
<line x1="623.5" y1="2596.6" x2="623.5" y2="2613.1" stroke="#1e1e1e" stroke-width="3.2"/>
<text transform="translate(620.5,2676.5)" font-size="67" text-anchor="middle">0.0</text>
<line x1="852.9" y1="2596.6" x2="852.9" y2="2613.1" stroke="#1e1e1e" stroke-width="3.2"/>
<text transform="translate(846.5,2676.5)" font-size="67" text-anchor="middle">0.5</text>
<line x1="1078.8" y1="2596.6" x2="1078.8" y2="2613.1" stroke="#1e1e1e" stroke-width="3.2"/>
<text transform="translate(1078.5,2676.5)" font-size="67" text-anchor="middle">1.0</text>
<line x1="611.4" y1="1881.9" x2="623.4" y2="1881.9" stroke="#1e1e1e" stroke-width="3.2"/>
<text transform="translate(591.0,1906.2)" font-size="67" text-anchor="end">0</text>
<line x1="611.4" y1="2008.2" x2="623.4" y2="2008.2" stroke="#1e1e1e" stroke-width="3.2"/>
<text transform="translate(591.0,2032.5)" font-size="67" text-anchor="end">2</text>
<line x1="611.4" y1="2130.6" x2="623.4" y2="2130.6" stroke="#1e1e1e" stroke-width="3.2"/>
<text transform="translate(591.0,2154.9)" font-size="67" text-anchor="end">4</text>
<line x1="611.4" y1="2256.4" x2="623.4" y2="2256.4" stroke="#1e1e1e" stroke-width="3.2"/>
<text transform="translate(591.0,2280.7)" font-size="67" text-anchor="end">6</text>
<line x1="611.4" y1="2378.8" x2="623.4" y2="2378.8" stroke="#1e1e1e" stroke-width="3.2"/>
<text transform="translate(591.0,2403.1)" font-size="67" text-anchor="end">8</text>
<line x1="611.4" y1="2505.2" x2="623.4" y2="2505.2" stroke="#1e1e1e" stroke-width="3.2"/>
<text transform="translate(591.0,2529.5)" font-size="67" text-anchor="end">10</text>
<text transform="translate(868.0,1798.5)" font-size="69" text-anchor="middle">(c)</text>
<text font-size="68.5" y="2766"><tspan x="640.5">Intensity[</tspan><tspan x="978.7" dy="-7.5" font-size="56">&#176;</tspan><tspan x="1024" dy="7.5" font-size="68.5">C]</tspan></text>
<text transform="translate(476,2215.5) scale(0.95,1) rotate(-90)" font-size="69" text-anchor="middle">days</text>
</g>
</svg></body></html>
